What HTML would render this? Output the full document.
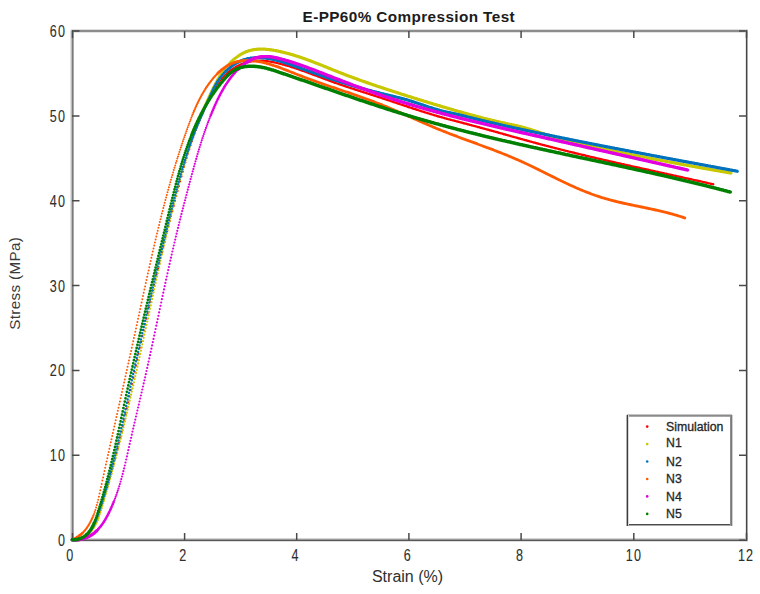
<!DOCTYPE html>
<html><head><meta charset="utf-8"><title>E-PP60% Compression Test</title>
<style>
html,body{margin:0;padding:0;background:#fff;width:760px;height:594px;overflow:hidden}
svg{display:block}
text{font-family:"Liberation Sans",sans-serif;fill:#2e2e2e}
.tk{font-size:14.3px;letter-spacing:1.3px;fill:#3a3a3a;stroke:#3a3a3a;stroke-width:0.1px}
.lb{font-size:16px}
.tt{font-size:15.3px;font-weight:bold;fill:#1c1c1c;letter-spacing:0.4px}
.lg{font-size:12.3px;fill:#1a1a1a;stroke:#1a1a1a;stroke-width:0.3px}
.cv path{fill:none;stroke-linecap:round}
</style></head><body>
<svg width="760" height="594" viewBox="0 0 760 594">
<rect width="760" height="594" fill="#fff"/>
<!-- axes box -->
<g shape-rendering="crispEdges">
<rect x="71" y="29" width="677" height="1" fill="#dedede"/>
<rect x="71" y="30" width="677" height="2" fill="#8c8c8c"/>
<rect x="71" y="32" width="677" height="1" fill="#e4e4e4"/>
<rect x="71" y="538" width="677" height="1" fill="#d4d4d4"/>
<rect x="71" y="539" width="677" height="1" fill="#9a9a9a"/>
<rect x="71" y="540" width="677" height="1" fill="#575757"/>
<rect x="71" y="541" width="677" height="1" fill="#e0e0e0"/>
<rect x="70" y="30" width="1" height="511" fill="#e2e2e2"/>
<rect x="71" y="30" width="1" height="511" fill="#bcbcbc"/>
<rect x="72" y="30" width="1" height="511" fill="#7a7a7a"/>
<rect x="73" y="30" width="1" height="511" fill="#a8a8a8"/>
<rect x="745" y="30" width="1" height="511" fill="#e6e6e6"/>
<rect x="746" y="30" width="1" height="511" fill="#464646"/>
<rect x="747" y="30" width="1" height="511" fill="#aaaaaa"/>
</g>
<g stroke="#4a4a4a" stroke-width="1.5">
<path d="M72.5 533V540M184.6 533V540M296.7 533V540M408.9 533V540M521.1 533V540M633.8 533V540M746.5 533V540"/>
<path d="M72.5 31V38M184.6 31V38M296.7 31V38M408.9 31V38M521.1 31V38M633.8 31V38M746.5 31V38"/>
<path d="M72 540.2H79.5M72 455.3H79.5M72 370.6H79.5M72 285.6H79.5M72 200.7H79.5M72 115.9H79.5M72 31H79.5"/>
<path d="M746.5 540.2H739M746.5 455.3H739M746.5 370.6H739M746.5 285.6H739M746.5 200.7H739M746.5 115.9H739M746.5 31H739"/>
</g>
<!-- tick labels -->
<g class="tk" text-anchor="middle">
<text transform="translate(70.3,560.6) scale(0.88,1.1)">0</text>
<text transform="translate(183.4,560.6) scale(0.88,1.1)">2</text>
<text transform="translate(295.6,560.6) scale(0.88,1.1)">4</text>
<text transform="translate(407.8,560.6) scale(0.88,1.1)">6</text>
<text transform="translate(520.0,560.6) scale(0.88,1.1)">8</text>
<text transform="translate(633.9,560.6) scale(0.88,1.1)">10</text>
<text transform="translate(746.1,560.6) scale(0.88,1.1)">12</text>
</g>
<g class="tk" text-anchor="end">
<text transform="translate(66.1,546.0) scale(0.88,1.1)">0</text>
<text transform="translate(66.1,461.1) scale(0.88,1.1)">10</text>
<text transform="translate(66.1,376.4) scale(0.88,1.1)">20</text>
<text transform="translate(66.1,291.8) scale(0.88,1.1)">30</text>
<text transform="translate(66.1,206.7) scale(0.88,1.1)">40</text>
<text transform="translate(66.1,121.7) scale(0.88,1.1)">50</text>
<text transform="translate(66.1,36.8) scale(0.88,1.1)">60</text>
</g>
<text class="lb" x="407.5" y="581.5" text-anchor="middle">Strain (%)</text>
<text class="lb" transform="translate(20.2,283.3) rotate(-90)" text-anchor="middle" style="font-size:15.2px;letter-spacing:0.35px;fill:#3a3a3a">Stress (MPa)</text>
<text class="tt" x="408.8" y="21.8" text-anchor="middle">E-PP60% Compression Test</text>
<!-- curves -->
<defs><filter id="sb" x="-2%" y="-2%" width="104%" height="104%"><feGaussianBlur stdDeviation="0.7"/></filter></defs>
<g class="cv" filter="url(#sb)">
<g stroke="#ff0000"><path d="M97.0 518.5h0M98.3 515.0h0M99.6 511.3h0M100.9 507.5h0M102.2 503.6h0M103.5 499.6h0M104.8 495.5h0M106.1 491.3h0M107.4 487.0h0M108.7 482.6h0M110.0 478.0h0M111.3 473.4h0M112.6 468.6h0M113.9 463.7h0M115.2 458.7h0M116.5 453.6h0M117.8 448.3h0M119.1 442.9h0M120.4 437.4h0M121.7 431.8h0M123.0 426.1h0M124.3 420.2h0M125.6 414.3h0M126.9 408.3h0M128.2 402.3h0M129.5 396.2h0M130.8 390.1h0M132.1 384.0h0M133.4 377.9h0M134.7 371.8h0M136.0 365.7h0M137.3 359.7h0M138.6 353.7h0M139.9 347.8h0M141.2 341.9h0M142.5 336.0h0M143.8 330.2h0M145.1 324.4h0M146.4 318.7h0M147.7 313.0h0M149.0 307.3h0M150.3 301.6h0M151.6 296.0h0M152.9 290.4h0M154.2 284.9h0M155.5 279.4h0M156.8 273.9h0M158.1 268.5h0M159.4 263.1h0M160.7 257.7h0M162.0 252.4h0M163.3 247.1h0M164.6 241.9h0M165.9 236.6h0M167.2 231.4h0M168.5 226.3h0M169.8 221.1h0M171.1 216.0h0M172.4 211.0h0M173.7 205.9h0M175.0 200.9h0M176.3 196.0h0M177.6 191.0h0M178.9 186.1h0M180.2 181.2h0M181.5 176.4h0M182.8 171.7h0M184.1 167.0h0M185.4 162.4h0M186.7 158.0h0M188.0 153.6h0M189.3 149.4h0M190.6 145.3h0M191.9 141.3h0M193.2 137.5h0M194.5 133.8h0M195.8 130.2h0M197.1 126.7h0M198.4 123.3h0" stroke-width="2.1"/><path d="M87.9 534.1h0M89.2 532.7h0M90.5 531.0h0M91.8 529.1h0M93.1 527.0h0M94.4 524.5h0M95.7 521.6h0M199.7 120.1h0M201.0 117.0h0M202.3 113.9h0M203.6 111.0h0M204.9 108.1h0M206.2 105.3h0M207.5 102.7h0M208.8 100.1h0M210.1 97.5h0M211.4 95.1h0M212.7 92.7h0M214.0 90.4h0M215.3 88.2h0M216.6 86.1h0M217.9 84.2h0M219.2 82.3h0M220.5 80.5h0M221.8 78.9h0M223.1 77.4h0M224.4 75.9h0" stroke-width="2.3"/><path d="M72.3 539.7h0M73.6 539.8h0M74.9 539.9h0M76.2 539.8h0M77.5 539.7h0M78.8 539.4h0M80.1 539.1h0M81.4 538.6h0M82.7 538.0h0M84.0 537.3h0M85.3 536.4h0M86.6 535.4h0M225.7 74.6h0M227.0 73.4h0M228.3 72.2h0M229.6 71.1h0M230.9 70.2h0M232.2 69.2h0M233.5 68.4h0M234.8 67.6h0M236.1 66.8h0M237.4 66.1h0M238.7 65.5h0M240.0 64.9h0M241.3 64.3h0M242.6 63.8h0M243.9 63.3h0M245.2 62.9h0M246.5 62.5h0M247.8 62.2h0M249.1 61.9h0M250.4 61.6h0M251.7 61.3h0M253.0 61.1h0M254.3 61.0h0M255.6 60.9h0M256.9 60.8h0M258.2 60.7h0M259.5 60.7h0M260.8 60.7h0M262.1 60.7h0M263.4 60.8h0M264.7 60.9h0M266.0 61.0h0M267.3 61.2h0M268.6 61.4h0M269.9 61.6h0M271.2 61.8h0M272.5 62.0h0M273.8 62.3h0M275.1 62.6h0M276.4 62.8h0M277.7 63.1h0M279.0 63.5h0M280.3 63.8h0M281.6 64.1h0M282.9 64.5h0M284.2 64.8h0M285.5 65.2h0M286.8 65.6h0M288.1 65.9h0M289.4 66.3h0M290.7 66.7h0M292.0 67.2h0M293.3 67.6h0M294.6 68.0h0M295.9 68.4h0M297.2 68.9h0M298.5 69.3h0M299.8 69.7h0M301.1 70.2h0M302.4 70.7h0M303.7 71.1h0M305.0 71.6h0M306.3 72.1h0M307.6 72.5h0M308.9 73.0h0M310.2 73.5h0M311.5 74.0h0M312.8 74.5h0M314.1 75.0h0M315.4 75.4h0M316.7 75.9h0M318.0 76.4h0M319.3 76.9h0M320.6 77.4h0M321.9 77.9h0M323.2 78.4h0M324.5 78.9h0M325.8 79.4h0M327.1 79.8h0M328.4 80.3h0M329.7 80.8h0M331.0 81.3h0M332.3 81.7h0M333.6 82.2h0M334.9 82.7h0M336.2 83.1h0M337.5 83.6h0M338.8 84.0h0M340.1 84.5h0M341.4 84.9h0M342.7 85.4h0M344.0 85.8h0M345.3 86.3h0M346.6 86.7h0M347.9 87.1h0M349.2 87.6h0M350.5 88.0h0M351.8 88.4h0M353.1 88.8h0M354.4 89.3h0M355.7 89.7h0M357.0 90.1h0M358.3 90.5h0M359.6 90.9h0M360.9 91.4h0M362.2 91.8h0M363.5 92.2h0M364.8 92.6h0M366.1 93.0h0M367.4 93.4h0M368.7 93.9h0M370.0 94.3h0M371.3 94.7h0M372.6 95.1h0M373.9 95.5h0M375.2 95.9h0M376.5 96.4h0M377.8 96.8h0M379.1 97.2h0M380.4 97.6h0M381.7 98.1h0M383.0 98.5h0M384.3 98.9h0M385.6 99.4h0M386.9 99.8h0M388.2 100.2h0M389.5 100.6h0M390.8 101.1h0M392.1 101.5h0M393.4 102.0h0M394.7 102.4h0M396.0 102.8h0M397.3 103.3h0M398.6 103.7h0M399.9 104.1h0M401.2 104.6h0M402.5 105.0h0M403.8 105.4h0M405.1 105.9h0M406.4 106.3h0M407.7 106.7h0M409.0 107.2h0M410.3 107.6h0M411.6 108.0h0M412.9 108.5h0M414.2 108.9h0M415.5 109.3h0M416.8 109.7h0M418.1 110.1h0M419.4 110.6h0M420.7 111.0h0M422.0 111.4h0M423.3 111.8h0M424.6 112.2h0M425.9 112.6h0M427.2 113.0h0M428.5 113.4h0M429.8 113.8h0M431.1 114.2h0M432.4 114.6h0M433.7 115.0h0M435.0 115.4h0M436.3 115.8h0M437.6 116.2h0M438.9 116.5h0M440.2 116.9h0M441.5 117.3h0M442.8 117.6h0M444.1 118.0h0M445.4 118.4h0M446.7 118.7h0M448.0 119.1h0M449.3 119.4h0M450.6 119.8h0M451.9 120.1h0M453.2 120.4h0M454.5 120.8h0M455.8 121.1h0M457.1 121.5h0M458.4 121.8h0M459.7 122.1h0M461.0 122.5h0M462.3 122.8h0M463.6 123.2h0M464.9 123.5h0M466.2 123.8h0M467.5 124.2h0M468.8 124.5h0M470.1 124.9h0M471.4 125.2h0M472.7 125.6h0M474.0 125.9h0M475.3 126.3h0M476.6 126.6h0M477.9 127.0h0M479.2 127.3h0M480.5 127.7h0M481.8 128.0h0M483.1 128.4h0M484.4 128.7h0M485.7 129.1h0M487.0 129.5h0M488.3 129.8h0M489.6 130.2h0M490.9 130.5h0M492.2 130.9h0M493.5 131.3h0M494.8 131.6h0M496.1 132.0h0M497.4 132.3h0M498.7 132.7h0M500.0 133.1h0M501.3 133.4h0M502.6 133.8h0M503.9 134.2h0M505.2 134.5h0M506.5 134.9h0M507.8 135.3h0M509.1 135.6h0M510.4 136.0h0M511.7 136.4h0M513.0 136.7h0M514.3 137.1h0M515.6 137.4h0M516.9 137.8h0M518.2 138.2h0M519.5 138.5h0M520.8 138.9h0M522.1 139.3h0M523.4 139.6h0M524.7 140.0h0M526.0 140.3h0M527.3 140.7h0M528.6 141.0h0M529.9 141.4h0M531.2 141.8h0M532.5 142.1h0M533.8 142.5h0M535.1 142.8h0M536.4 143.2h0M537.7 143.5h0M539.0 143.9h0M540.3 144.2h0M541.6 144.6h0M542.9 144.9h0M544.2 145.3h0M545.5 145.6h0M546.8 145.9h0M548.1 146.3h0M549.4 146.6h0M550.7 147.0h0M552.0 147.3h0M553.3 147.6h0M554.6 148.0h0M555.9 148.3h0M557.2 148.6h0M558.5 149.0h0M559.8 149.3h0M561.1 149.6h0M562.4 149.9h0M563.7 150.3h0M565.0 150.6h0M566.3 150.9h0M567.6 151.2h0M568.9 151.6h0M570.2 151.9h0M571.5 152.2h0M572.8 152.5h0M574.1 152.8h0M575.4 153.2h0M576.7 153.5h0M578.0 153.8h0M579.3 154.1h0M580.6 154.4h0M581.9 154.7h0M583.2 155.0h0M584.5 155.3h0M585.8 155.7h0M587.1 156.0h0M588.4 156.3h0M589.7 156.6h0M591.0 156.9h0M592.3 157.2h0M593.6 157.5h0M594.9 157.8h0M596.2 158.1h0M597.5 158.4h0M598.8 158.7h0M600.1 159.0h0M601.4 159.3h0M602.7 159.6h0M604.0 159.9h0M605.3 160.2h0M606.6 160.5h0M607.9 160.8h0M609.2 161.1h0M610.5 161.4h0M611.8 161.7h0M613.1 162.0h0M614.4 162.3h0M615.7 162.6h0M617.0 162.9h0M618.3 163.2h0M619.6 163.5h0M620.9 163.8h0M622.2 164.1h0M623.5 164.3h0M624.8 164.6h0M626.1 164.9h0M627.4 165.2h0M628.7 165.5h0M630.0 165.8h0M631.3 166.1h0M632.6 166.4h0M633.9 166.7h0M635.2 167.0h0M636.5 167.2h0M637.8 167.5h0M639.1 167.8h0M640.4 168.1h0M641.7 168.4h0M643.0 168.7h0M644.3 169.0h0M645.6 169.3h0M646.9 169.5h0M648.2 169.8h0M649.5 170.1h0M650.8 170.4h0M652.1 170.7h0M653.4 171.0h0M654.7 171.3h0M656.0 171.6h0M657.3 171.8h0M658.6 172.1h0M659.9 172.4h0M661.2 172.7h0M662.5 173.0h0M663.8 173.3h0M665.1 173.6h0M666.4 173.8h0M667.7 174.1h0M669.0 174.4h0M670.3 174.7h0M671.6 175.0h0M672.9 175.3h0M674.2 175.6h0M675.5 175.8h0M676.8 176.1h0M678.1 176.4h0M679.4 176.7h0M680.7 177.0h0M682.0 177.3h0M683.3 177.6h0M684.6 177.9h0M685.9 178.1h0M687.2 178.4h0M688.5 178.7h0M689.8 179.0h0M691.1 179.3h0M692.4 179.6h0M693.7 179.9h0M695.0 180.2h0M696.3 180.5h0M697.6 180.7h0M698.9 181.0h0M700.2 181.3h0M701.5 181.6h0M702.8 181.9h0M704.1 182.2h0M705.4 182.5h0M706.7 182.8h0M708.0 183.1h0M709.3 183.4h0M710.6 183.7h0M711.9 184.0h0M713.2 184.3h0" stroke-width="2.4"/></g>
<g stroke="#c8c800"><path d="M98.9 516.4h0M99.6 514.5h0M100.3 512.5h0M101.0 510.3h0M101.7 508.1h0M102.4 505.8h0M103.1 503.4h0M103.8 501.0h0M104.5 498.6h0M105.2 496.2h0M105.9 493.8h0M106.6 491.3h0M107.3 488.9h0M108.0 486.4h0M108.7 483.9h0M109.4 481.4h0M110.1 478.8h0M110.8 476.3h0M111.5 473.7h0M112.2 471.1h0M112.9 468.5h0M113.6 465.9h0M114.3 463.3h0M115.0 460.6h0M115.7 457.9h0M116.4 455.2h0M117.1 452.5h0M117.8 449.8h0M118.5 447.0h0M119.2 444.3h0M119.9 441.5h0M120.6 438.7h0M121.3 435.9h0M122.0 433.0h0M122.7 430.2h0M123.4 427.3h0M124.1 424.4h0M124.8 421.5h0M125.5 418.6h0M126.2 415.7h0M126.9 412.7h0M127.6 409.7h0M128.3 406.8h0M129.0 403.8h0M129.7 400.7h0M130.4 397.7h0M131.1 394.7h0M131.8 391.6h0M132.5 388.5h0M133.2 385.4h0M133.9 382.3h0M134.6 379.2h0M135.3 376.1h0M136.0 373.0h0M136.7 369.8h0M137.4 366.7h0M138.1 363.5h0M138.8 360.3h0M139.5 357.1h0M140.2 353.9h0M140.9 350.7h0M141.6 347.5h0M142.3 344.3h0M143.0 341.1h0M143.7 337.8h0M144.4 334.6h0M145.1 331.4h0M145.8 328.1h0M146.5 324.9h0M147.2 321.6h0M147.9 318.4h0M148.6 315.2h0M149.3 311.9h0M150.0 308.7h0M150.7 305.4h0M151.4 302.2h0M152.1 299.0h0M152.8 295.7h0M153.5 292.5h0M154.2 289.3h0M154.9 286.1h0M155.6 282.9h0M156.3 279.7h0M157.0 276.5h0M157.7 273.3h0M158.4 270.2h0M159.1 267.0h0M159.8 263.9h0M160.5 260.7h0M161.2 257.6h0M161.9 254.5h0M162.6 251.4h0M163.3 248.3h0M164.0 245.3h0M164.7 242.2h0M165.4 239.2h0M166.1 236.2h0M166.8 233.2h0M167.5 230.2h0M168.2 227.2h0M168.9 224.3h0M169.6 221.4h0M170.3 218.4h0M171.0 215.5h0M171.7 212.7h0M172.4 209.8h0M173.1 207.0h0M173.8 204.2h0M174.5 201.4h0M175.2 198.6h0M175.9 195.8h0M176.6 193.1h0M177.3 190.4h0M178.0 187.7h0M178.7 185.1h0M179.4 182.5h0M180.1 179.9h0M180.8 177.3h0M181.5 174.8h0M182.2 172.3h0M182.9 169.8h0M183.6 167.3h0M184.3 164.9h0M185.0 162.5h0M185.7 160.1h0M186.4 157.8h0M187.1 155.4h0M187.8 153.1h0M188.5 150.9h0M189.2 148.6h0M189.9 146.4h0M190.6 144.3h0M191.3 142.1h0M192.0 140.0h0M192.7 137.9h0M193.4 135.8h0M194.1 133.8h0M194.8 131.8h0M195.5 129.8h0M196.2 127.9h0M196.9 125.9h0M197.6 124.0h0M198.3 122.2h0M199.0 120.3h0M199.7 118.5h0M200.4 116.7h0M201.1 114.9h0" stroke-width="2.3"/><path d="M88.4 534.2h0M89.1 533.4h0M89.8 532.6h0M90.5 531.8h0M91.2 530.9h0M91.9 530.0h0M92.6 529.0h0M93.3 527.9h0M94.0 526.8h0M94.7 525.6h0M95.4 524.3h0M96.1 522.9h0M96.8 521.4h0M97.5 519.9h0M98.2 518.2h0M201.8 113.2h0M202.5 111.5h0M203.2 109.8h0M203.9 108.1h0M204.6 106.4h0M205.3 104.8h0M206.0 103.2h0M206.7 101.6h0M207.4 100.0h0M208.1 98.5h0M208.8 97.0h0M209.5 95.5h0M210.2 94.0h0M210.9 92.5h0M211.6 91.0h0M212.3 89.6h0M213.0 88.2h0M213.7 86.8h0M214.4 85.4h0M215.1 84.1h0M215.8 82.8h0M216.5 81.5h0M217.2 80.2h0M217.9 79.0h0M218.6 77.8h0M219.3 76.6h0M220.0 75.5h0M220.7 74.4h0M221.4 73.4h0M222.1 72.3h0M222.8 71.3h0M223.5 70.4h0M224.2 69.5h0M224.9 68.6h0M225.6 67.7h0M226.3 66.9h0M227.0 66.1h0M227.7 65.3h0M228.4 64.5h0M229.1 63.8h0M229.8 63.1h0" stroke-width="2.7"/><path d="M72.3 539.7h0M73.0 539.8h0M73.7 539.9h0M74.4 540.0h0M75.1 540.0h0M75.8 540.1h0M76.5 540.0h0M77.2 540.0h0M77.9 539.9h0M78.6 539.8h0M79.3 539.6h0M80.0 539.5h0M80.7 539.2h0M81.4 539.0h0M82.1 538.7h0M82.8 538.4h0M83.5 538.0h0M84.2 537.6h0M84.9 537.1h0M85.6 536.6h0M86.3 536.1h0M87.0 535.5h0M87.7 534.9h0M230.5 62.4h0M231.2 61.7h0M231.9 61.1h0M232.6 60.4h0M233.3 59.8h0M234.0 59.2h0M234.7 58.6h0M235.4 58.1h0M236.1 57.6h0M236.8 57.0h0M237.5 56.5h0M238.2 56.1h0M238.9 55.6h0M239.6 55.2h0M240.3 54.7h0M241.0 54.3h0M241.7 53.9h0M242.4 53.5h0M243.1 53.2h0M243.8 52.8h0M244.5 52.5h0M245.2 52.2h0M245.9 51.9h0M246.6 51.6h0M247.3 51.4h0M248.0 51.1h0M248.7 50.9h0M249.4 50.7h0M250.1 50.5h0M250.8 50.3h0M251.5 50.1h0M252.2 50.0h0M252.9 49.9h0M253.6 49.7h0M254.3 49.6h0M255.0 49.5h0M255.7 49.4h0M256.4 49.4h0M257.1 49.3h0M257.8 49.2h0M258.5 49.2h0M259.2 49.2h0M259.9 49.1h0M260.6 49.1h0M261.3 49.1h0M262.0 49.1h0M262.7 49.1h0M263.4 49.2h0M264.1 49.2h0M264.8 49.2h0M265.5 49.3h0M266.2 49.3h0M266.9 49.4h0M267.6 49.5h0M268.3 49.5h0M269.0 49.6h0M269.7 49.7h0M270.4 49.8h0M271.1 49.9h0M271.8 50.0h0M272.5 50.1h0M273.2 50.2h0M273.9 50.3h0M274.6 50.5h0M275.3 50.6h0M276.0 50.7h0M276.7 50.9h0M277.4 51.0h0M278.1 51.1h0M278.8 51.3h0M279.5 51.5h0M280.2 51.6h0M280.9 51.8h0M281.6 51.9h0M282.3 52.1h0M283.0 52.3h0M283.7 52.4h0M284.4 52.6h0M285.1 52.8h0M285.8 53.0h0M286.5 53.1h0M287.2 53.3h0M287.9 53.5h0M288.6 53.7h0M289.3 53.9h0M290.0 54.1h0M290.7 54.3h0M291.4 54.5h0M292.1 54.7h0M292.8 54.9h0M293.5 55.1h0M294.2 55.4h0M294.9 55.6h0M295.6 55.8h0M296.3 56.0h0M297.0 56.2h0M297.7 56.5h0M298.4 56.7h0M299.1 56.9h0M299.8 57.1h0M300.5 57.4h0M301.2 57.6h0M301.9 57.9h0M302.6 58.1h0M303.3 58.3h0M304.0 58.6h0M304.7 58.8h0M305.4 59.1h0M306.1 59.3h0M306.8 59.6h0M307.5 59.9h0M308.2 60.1h0M308.9 60.4h0M309.6 60.6h0M310.3 60.9h0M311.0 61.2h0M311.7 61.4h0M312.4 61.7h0M313.1 62.0h0M313.8 62.2h0M314.5 62.5h0M315.2 62.8h0M315.9 63.0h0M316.6 63.3h0M317.3 63.6h0M318.0 63.9h0M318.7 64.1h0M319.4 64.4h0M320.1 64.7h0M320.8 65.0h0M321.5 65.2h0M322.2 65.5h0M322.9 65.8h0M323.6 66.1h0M324.3 66.4h0M325.0 66.7h0M325.7 66.9h0M326.4 67.2h0M327.1 67.5h0M327.8 67.8h0M328.5 68.1h0M329.2 68.4h0M329.9 68.6h0M330.6 68.9h0M331.3 69.2h0M332.0 69.5h0M332.7 69.8h0M333.4 70.0h0M334.1 70.3h0M334.8 70.6h0M335.5 70.9h0M336.2 71.2h0M336.9 71.5h0M337.6 71.7h0M338.3 72.0h0M339.0 72.3h0M339.7 72.6h0M340.4 72.8h0M341.1 73.1h0M341.8 73.4h0M342.5 73.7h0M343.2 73.9h0M343.9 74.2h0M344.6 74.5h0M345.3 74.8h0M346.0 75.0h0M346.7 75.3h0M347.4 75.6h0M348.1 75.8h0M348.8 76.1h0M349.5 76.4h0M350.2 76.6h0M350.9 76.9h0M351.6 77.1h0M352.3 77.4h0M353.0 77.7h0M353.7 77.9h0M354.4 78.2h0M355.1 78.4h0M355.8 78.7h0M356.5 78.9h0M357.2 79.2h0M357.9 79.4h0M358.6 79.7h0M359.3 80.0h0M360.0 80.2h0M360.7 80.5h0M361.4 80.7h0M362.1 81.0h0M362.8 81.2h0M363.5 81.5h0M364.2 81.7h0M364.9 81.9h0M365.6 82.2h0M366.3 82.4h0M367.0 82.7h0M367.7 82.9h0M368.4 83.2h0M369.1 83.4h0M369.8 83.7h0M370.5 83.9h0M371.2 84.1h0M371.9 84.4h0M372.6 84.6h0M373.3 84.9h0M374.0 85.1h0M374.7 85.3h0M375.4 85.6h0M376.1 85.8h0M376.8 86.0h0M377.5 86.3h0M378.2 86.5h0M378.9 86.7h0M379.6 87.0h0M380.3 87.2h0M381.0 87.4h0M381.7 87.7h0M382.4 87.9h0M383.1 88.1h0M383.8 88.4h0M384.5 88.6h0M385.2 88.8h0M385.9 89.1h0M386.6 89.3h0M387.3 89.5h0M388.0 89.8h0M388.7 90.0h0M389.4 90.2h0M390.1 90.4h0M390.8 90.7h0M391.5 90.9h0M392.2 91.1h0M392.9 91.3h0M393.6 91.6h0M394.3 91.8h0M395.0 92.0h0M395.7 92.2h0M396.4 92.5h0M397.1 92.7h0M397.8 92.9h0M398.5 93.1h0M399.2 93.4h0M399.9 93.6h0M400.6 93.8h0M401.3 94.0h0M402.0 94.3h0M402.7 94.5h0M403.4 94.7h0M404.1 94.9h0M404.8 95.2h0M405.5 95.4h0M406.2 95.6h0M406.9 95.8h0M407.6 96.0h0M408.3 96.3h0M409.0 96.5h0M409.7 96.7h0M410.4 96.9h0M411.1 97.1h0M411.8 97.4h0M412.5 97.6h0M413.2 97.8h0M413.9 98.0h0M414.6 98.2h0M415.3 98.5h0M416.0 98.7h0M416.7 98.9h0M417.4 99.1h0M418.1 99.3h0M418.8 99.6h0M419.5 99.8h0M420.2 100.0h0M420.9 100.2h0M421.6 100.4h0M422.3 100.6h0M423.0 100.9h0M423.7 101.1h0M424.4 101.3h0M425.1 101.5h0M425.8 101.7h0M426.5 101.9h0M427.2 102.1h0M427.9 102.4h0M428.6 102.6h0M429.3 102.8h0M430.0 103.0h0M430.7 103.2h0M431.4 103.4h0M432.1 103.6h0M432.8 103.8h0M433.5 104.1h0M434.2 104.3h0M434.9 104.5h0M435.6 104.7h0M436.3 104.9h0M437.0 105.1h0M437.7 105.3h0M438.4 105.5h0M439.1 105.7h0M439.8 105.9h0M440.5 106.2h0M441.2 106.4h0M441.9 106.6h0M442.6 106.8h0M443.3 107.0h0M444.0 107.2h0M444.7 107.4h0M445.4 107.6h0M446.1 107.8h0M446.8 108.0h0M447.5 108.2h0M448.2 108.4h0M448.9 108.6h0M449.6 108.8h0M450.3 109.0h0M451.0 109.2h0M451.7 109.4h0M452.4 109.6h0M453.1 109.8h0M453.8 110.1h0M454.5 110.3h0M455.2 110.5h0M455.9 110.7h0M456.6 110.9h0M457.3 111.1h0M458.0 111.3h0M458.7 111.5h0M459.4 111.7h0M460.1 111.9h0M460.8 112.1h0M461.5 112.2h0M462.2 112.4h0M462.9 112.6h0M463.6 112.8h0M464.3 113.0h0M465.0 113.2h0M465.7 113.4h0M466.4 113.6h0M467.1 113.8h0M467.8 114.0h0M468.5 114.2h0M469.2 114.4h0M469.9 114.6h0M470.6 114.8h0M471.3 115.0h0M472.0 115.2h0M472.7 115.4h0M473.4 115.5h0M474.1 115.7h0M474.8 115.9h0M475.5 116.1h0M476.2 116.3h0M476.9 116.5h0M477.6 116.7h0M478.3 116.9h0M479.0 117.0h0M479.7 117.2h0M480.4 117.4h0M481.1 117.6h0M481.8 117.8h0M482.5 117.9h0M483.2 118.1h0M483.9 118.3h0M484.6 118.5h0M485.3 118.7h0M486.0 118.8h0M486.7 119.0h0M487.4 119.2h0M488.1 119.4h0M488.8 119.5h0M489.5 119.7h0M490.2 119.9h0M490.9 120.0h0M491.6 120.2h0M492.3 120.4h0M493.0 120.5h0M493.7 120.7h0M494.4 120.9h0M495.1 121.0h0M495.8 121.2h0M496.5 121.4h0M497.2 121.5h0M497.9 121.7h0M498.6 121.9h0M499.3 122.0h0M500.0 122.2h0M500.7 122.3h0M501.4 122.5h0M502.1 122.6h0M502.8 122.8h0M503.5 122.9h0M504.2 123.1h0M504.9 123.2h0M505.6 123.4h0M506.3 123.5h0M507.0 123.7h0M507.7 123.8h0M508.4 124.0h0M509.1 124.1h0M509.8 124.3h0M510.5 124.5h0M511.2 124.6h0M511.9 124.8h0M512.6 124.9h0M513.3 125.1h0M514.0 125.2h0M514.7 125.4h0M515.4 125.5h0M516.1 125.7h0M516.8 125.9h0M517.5 126.0h0M518.2 126.2h0M518.9 126.4h0M519.6 126.5h0M520.3 126.7h0M521.0 126.9h0M521.7 127.1h0M522.4 127.2h0M523.1 127.4h0M523.8 127.6h0M524.5 127.8h0M525.2 128.0h0M525.9 128.2h0M526.6 128.4h0M527.3 128.6h0M528.0 128.8h0M528.7 129.0h0M529.4 129.2h0M530.1 129.4h0M530.8 129.6h0M531.5 129.8h0M532.2 130.0h0M532.9 130.3h0M533.6 130.5h0M534.3 130.7h0M535.0 131.0h0M535.7 131.2h0M536.4 131.4h0M537.1 131.6h0M537.8 131.9h0M538.5 132.1h0M539.2 132.3h0M539.9 132.6h0M540.6 132.8h0M541.3 133.0h0M542.0 133.2h0M542.7 133.5h0M543.4 133.7h0M544.1 133.9h0M544.8 134.1h0M545.5 134.3h0M546.2 134.5h0M546.9 134.8h0M547.6 135.0h0M548.3 135.2h0M549.0 135.4h0M549.7 135.6h0M550.4 135.8h0M551.1 136.0h0M551.8 136.2h0M552.5 136.4h0M553.2 136.6h0M553.9 136.9h0M554.6 137.1h0M555.3 137.3h0M556.0 137.5h0M556.7 137.7h0M557.4 137.9h0M558.1 138.1h0M558.8 138.3h0M559.5 138.5h0M560.2 138.6h0M560.9 138.8h0M561.6 139.0h0M562.3 139.2h0M563.0 139.4h0M563.7 139.6h0M564.4 139.8h0M565.1 140.0h0M565.8 140.2h0M566.5 140.4h0M567.2 140.5h0M567.9 140.7h0M568.6 140.9h0M569.3 141.1h0M570.0 141.3h0M570.7 141.5h0M571.4 141.6h0M572.1 141.8h0M572.8 142.0h0M573.5 142.2h0M574.2 142.4h0M574.9 142.5h0M575.6 142.7h0M576.3 142.9h0M577.0 143.1h0M577.7 143.2h0M578.4 143.4h0M579.1 143.6h0M579.8 143.7h0M580.5 143.9h0M581.2 144.1h0M581.9 144.2h0M582.6 144.4h0M583.3 144.6h0M584.0 144.7h0M584.7 144.9h0M585.4 145.1h0M586.1 145.2h0M586.8 145.4h0M587.5 145.6h0M588.2 145.7h0M588.9 145.9h0M589.6 146.1h0M590.3 146.2h0M591.0 146.4h0M591.7 146.5h0M592.4 146.7h0M593.1 146.8h0M593.8 147.0h0M594.5 147.2h0M595.2 147.3h0M595.9 147.5h0M596.6 147.6h0M597.3 147.8h0M598.0 147.9h0M598.7 148.1h0M599.4 148.2h0M600.1 148.4h0M600.8 148.5h0M601.5 148.7h0M602.2 148.8h0M602.9 149.0h0M603.6 149.1h0M604.3 149.3h0M605.0 149.4h0M605.7 149.6h0M606.4 149.7h0M607.1 149.9h0M607.8 150.0h0M608.5 150.2h0M609.2 150.3h0M609.9 150.5h0M610.6 150.6h0M611.3 150.8h0M612.0 150.9h0M612.7 151.0h0M613.4 151.2h0M614.1 151.3h0M614.8 151.5h0M615.5 151.6h0M616.2 151.8h0M616.9 151.9h0M617.6 152.0h0M618.3 152.2h0M619.0 152.3h0M619.7 152.5h0M620.4 152.6h0M621.1 152.7h0M621.8 152.9h0M622.5 153.0h0M623.2 153.2h0M623.9 153.3h0M624.6 153.4h0M625.3 153.6h0M626.0 153.7h0M626.7 153.9h0M627.4 154.0h0M628.1 154.1h0M628.8 154.3h0M629.5 154.4h0M630.2 154.5h0M630.9 154.7h0M631.6 154.8h0M632.3 155.0h0M633.0 155.1h0M633.7 155.2h0M634.4 155.4h0M635.1 155.5h0M635.8 155.6h0M636.5 155.8h0M637.2 155.9h0M637.9 156.0h0M638.6 156.2h0M639.3 156.3h0M640.0 156.4h0M640.7 156.6h0M641.4 156.7h0M642.1 156.8h0M642.8 157.0h0M643.5 157.1h0M644.2 157.2h0M644.9 157.4h0M645.6 157.5h0M646.3 157.7h0M647.0 157.8h0M647.7 157.9h0M648.4 158.1h0M649.1 158.2h0M649.8 158.3h0M650.5 158.5h0M651.2 158.6h0M651.9 158.7h0M652.6 158.9h0M653.3 159.0h0M654.0 159.1h0M654.7 159.3h0M655.4 159.4h0M656.1 159.5h0M656.8 159.7h0M657.5 159.8h0M658.2 159.9h0M658.9 160.1h0M659.6 160.2h0M660.3 160.3h0M661.0 160.4h0M661.7 160.6h0M662.4 160.7h0M663.1 160.8h0M663.8 161.0h0M664.5 161.1h0M665.2 161.2h0M665.9 161.4h0M666.6 161.5h0M667.3 161.6h0M668.0 161.8h0M668.7 161.9h0M669.4 162.0h0M670.1 162.2h0M670.8 162.3h0M671.5 162.4h0M672.2 162.6h0M672.9 162.7h0M673.6 162.8h0M674.3 162.9h0M675.0 163.1h0M675.7 163.2h0M676.4 163.3h0M677.1 163.5h0M677.8 163.6h0M678.5 163.7h0M679.2 163.9h0M679.9 164.0h0M680.6 164.1h0M681.3 164.2h0M682.0 164.4h0M682.7 164.5h0M683.4 164.6h0M684.1 164.8h0M684.8 164.9h0M685.5 165.0h0M686.2 165.1h0M686.9 165.3h0M687.6 165.4h0M688.3 165.5h0M689.0 165.7h0M689.7 165.8h0M690.4 165.9h0M691.1 166.0h0M691.8 166.2h0M692.5 166.3h0M693.2 166.4h0M693.9 166.5h0M694.6 166.7h0M695.3 166.8h0M696.0 166.9h0M696.7 167.1h0M697.4 167.2h0M698.1 167.3h0M698.8 167.4h0M699.5 167.6h0M700.2 167.7h0M700.9 167.8h0M701.6 167.9h0M702.3 168.1h0M703.0 168.2h0M703.7 168.3h0M704.4 168.4h0M705.1 168.6h0M705.8 168.7h0M706.5 168.8h0M707.2 168.9h0M707.9 169.1h0M708.6 169.2h0M709.3 169.3h0M710.0 169.4h0M710.7 169.6h0M711.4 169.7h0M712.1 169.8h0M712.8 169.9h0M713.5 170.1h0M714.2 170.2h0M714.9 170.3h0M715.6 170.4h0M716.3 170.5h0M717.0 170.7h0M717.7 170.8h0M718.4 170.9h0M719.1 171.0h0M719.8 171.2h0M720.5 171.3h0M721.2 171.4h0M721.9 171.5h0M722.6 171.7h0M723.3 171.8h0M724.0 171.9h0M724.7 172.0h0M725.4 172.1h0M726.1 172.3h0M726.8 172.4h0M727.5 172.5h0M728.2 172.6h0M728.9 172.7h0M729.6 172.9h0M730.3 173.0h0M731.0 173.1h0" stroke-width="3.2"/></g>
<g stroke="#0072bd"><path d="M96.1 519.8h0M96.8 517.9h0M97.5 516.0h0M98.2 514.0h0M98.9 511.9h0M99.6 509.8h0M100.3 507.7h0M101.0 505.6h0M101.7 503.4h0M102.4 501.2h0M103.1 498.9h0M103.8 496.6h0M104.5 494.3h0M105.2 492.0h0M105.9 489.6h0M106.6 487.2h0M107.3 484.7h0M108.0 482.2h0M108.7 479.7h0M109.4 477.2h0M110.1 474.6h0M110.8 471.9h0M111.5 469.3h0M112.2 466.6h0M112.9 463.8h0M113.6 461.0h0M114.3 458.2h0M115.0 455.4h0M115.7 452.5h0M116.4 449.6h0M117.1 446.6h0M117.8 443.7h0M118.5 440.6h0M119.2 437.6h0M119.9 434.5h0M120.6 431.4h0M121.3 428.3h0M122.0 425.2h0M122.7 422.0h0M123.4 418.8h0M124.1 415.6h0M124.8 412.4h0M125.5 409.2h0M126.2 406.0h0M126.9 402.8h0M127.6 399.6h0M128.3 396.3h0M129.0 393.1h0M129.7 389.9h0M130.4 386.7h0M131.1 383.5h0M131.8 380.3h0M132.5 377.1h0M133.2 374.0h0M133.9 370.8h0M134.6 367.6h0M135.3 364.5h0M136.0 361.3h0M136.7 358.1h0M137.4 355.0h0M138.1 351.9h0M138.8 348.7h0M139.5 345.6h0M140.2 342.5h0M140.9 339.4h0M141.6 336.3h0M142.3 333.2h0M143.0 330.1h0M143.7 327.0h0M144.4 323.9h0M145.1 320.8h0M145.8 317.7h0M146.5 314.7h0M147.2 311.6h0M147.9 308.6h0M148.6 305.5h0M149.3 302.5h0M150.0 299.4h0M150.7 296.4h0M151.4 293.4h0M152.1 290.4h0M152.8 287.4h0M153.5 284.4h0M154.2 281.4h0M154.9 278.4h0M155.6 275.4h0M156.3 272.4h0M157.0 269.5h0M157.7 266.5h0M158.4 263.6h0M159.1 260.6h0M159.8 257.7h0M160.5 254.8h0M161.2 251.8h0M161.9 248.9h0M162.6 246.0h0M163.3 243.1h0M164.0 240.2h0M164.7 237.3h0M165.4 234.4h0M166.1 231.6h0M166.8 228.7h0M167.5 225.8h0M168.2 223.0h0M168.9 220.1h0M169.6 217.3h0M170.3 214.4h0M171.0 211.6h0M171.7 208.8h0M172.4 206.0h0M173.1 203.2h0M173.8 200.4h0M174.5 197.7h0M175.2 195.0h0M175.9 192.3h0M176.6 189.6h0M177.3 187.0h0M178.0 184.3h0M178.7 181.8h0M179.4 179.2h0M180.1 176.7h0M180.8 174.2h0M181.5 171.7h0M182.2 169.3h0M182.9 167.0h0M183.6 164.6h0M184.3 162.3h0M185.0 160.0h0M185.7 157.8h0M186.4 155.6h0M187.1 153.4h0M187.8 151.3h0M188.5 149.2h0M189.2 147.1h0M189.9 145.1h0M190.6 143.1h0M191.3 141.1h0M192.0 139.2h0M192.7 137.3h0M193.4 135.4h0M194.1 133.6h0M194.8 131.8h0M195.5 130.0h0" stroke-width="2.5"/><path d="M87.7 534.1h0M88.4 533.3h0M89.1 532.5h0M89.8 531.6h0M90.5 530.6h0M91.2 529.6h0M91.9 528.5h0M92.6 527.3h0M93.3 526.0h0M94.0 524.6h0M94.7 523.1h0M95.4 521.5h0M196.2 128.2h0M196.9 126.5h0M197.6 124.8h0M198.3 123.1h0M199.0 121.4h0M199.7 119.8h0M200.4 118.1h0M201.1 116.5h0M201.8 114.9h0M202.5 113.3h0M203.2 111.7h0M203.9 110.1h0M204.6 108.5h0M205.3 107.0h0M206.0 105.4h0M206.7 103.8h0M207.4 102.3h0M208.1 100.7h0M208.8 99.2h0M209.5 97.6h0M210.2 96.1h0M210.9 94.5h0M211.6 93.0h0M212.3 91.4h0M213.0 89.9h0M213.7 88.5h0M214.4 87.1h0M215.1 85.8h0M215.8 84.5h0M216.5 83.3h0M217.2 82.2h0M217.9 81.1h0M218.6 80.0h0M219.3 79.0h0M220.0 78.1h0M220.7 77.2h0M221.4 76.3h0M222.1 75.4h0M222.8 74.6h0M223.5 73.8h0M224.2 73.0h0M224.9 72.3h0M225.6 71.5h0" stroke-width="2.8"/><path d="M72.3 539.7h0M73.0 539.8h0M73.7 539.8h0M74.4 539.8h0M75.1 539.8h0M75.8 539.8h0M76.5 539.8h0M77.2 539.7h0M77.9 539.6h0M78.6 539.4h0M79.3 539.2h0M80.0 539.0h0M80.7 538.8h0M81.4 538.5h0M82.1 538.2h0M82.8 537.8h0M83.5 537.4h0M84.2 537.0h0M84.9 536.5h0M85.6 536.0h0M86.3 535.4h0M87.0 534.7h0M226.3 70.8h0M227.0 70.2h0M227.7 69.5h0M228.4 68.9h0M229.1 68.3h0M229.8 67.7h0M230.5 67.1h0M231.2 66.6h0M231.9 66.1h0M232.6 65.6h0M233.3 65.1h0M234.0 64.6h0M234.7 64.2h0M235.4 63.8h0M236.1 63.3h0M236.8 63.0h0M237.5 62.6h0M238.2 62.2h0M238.9 61.9h0M239.6 61.5h0M240.3 61.2h0M241.0 60.9h0M241.7 60.7h0M242.4 60.4h0M243.1 60.1h0M243.8 59.9h0M244.5 59.7h0M245.2 59.5h0M245.9 59.3h0M246.6 59.1h0M247.3 58.9h0M248.0 58.7h0M248.7 58.6h0M249.4 58.5h0M250.1 58.3h0M250.8 58.2h0M251.5 58.1h0M252.2 58.0h0M252.9 58.0h0M253.6 57.9h0M254.3 57.8h0M255.0 57.8h0M255.7 57.7h0M256.4 57.7h0M257.1 57.7h0M257.8 57.7h0M258.5 57.7h0M259.2 57.7h0M259.9 57.7h0M260.6 57.7h0M261.3 57.8h0M262.0 57.8h0M262.7 57.9h0M263.4 57.9h0M264.1 58.0h0M264.8 58.0h0M265.5 58.1h0M266.2 58.2h0M266.9 58.3h0M267.6 58.4h0M268.3 58.5h0M269.0 58.6h0M269.7 58.7h0M270.4 58.9h0M271.1 59.0h0M271.8 59.1h0M272.5 59.3h0M273.2 59.4h0M273.9 59.6h0M274.6 59.8h0M275.3 59.9h0M276.0 60.1h0M276.7 60.3h0M277.4 60.5h0M278.1 60.7h0M278.8 60.8h0M279.5 61.0h0M280.2 61.2h0M280.9 61.4h0M281.6 61.7h0M282.3 61.9h0M283.0 62.1h0M283.7 62.3h0M284.4 62.5h0M285.1 62.8h0M285.8 63.0h0M286.5 63.2h0M287.2 63.4h0M287.9 63.7h0M288.6 63.9h0M289.3 64.2h0M290.0 64.4h0M290.7 64.7h0M291.4 64.9h0M292.1 65.2h0M292.8 65.4h0M293.5 65.7h0M294.2 65.9h0M294.9 66.2h0M295.6 66.4h0M296.3 66.7h0M297.0 66.9h0M297.7 67.2h0M298.4 67.4h0M299.1 67.7h0M299.8 67.9h0M300.5 68.2h0M301.2 68.5h0M301.9 68.7h0M302.6 69.0h0M303.3 69.2h0M304.0 69.5h0M304.7 69.7h0M305.4 70.0h0M306.1 70.2h0M306.8 70.5h0M307.5 70.7h0M308.2 71.0h0M308.9 71.2h0M309.6 71.5h0M310.3 71.7h0M311.0 72.0h0M311.7 72.2h0M312.4 72.5h0M313.1 72.7h0M313.8 73.0h0M314.5 73.2h0M315.2 73.5h0M315.9 73.7h0M316.6 74.0h0M317.3 74.2h0M318.0 74.4h0M318.7 74.7h0M319.4 74.9h0M320.1 75.2h0M320.8 75.4h0M321.5 75.7h0M322.2 75.9h0M322.9 76.1h0M323.6 76.4h0M324.3 76.6h0M325.0 76.8h0M325.7 77.1h0M326.4 77.3h0M327.1 77.6h0M327.8 77.8h0M328.5 78.0h0M329.2 78.3h0M329.9 78.5h0M330.6 78.7h0M331.3 79.0h0M332.0 79.2h0M332.7 79.4h0M333.4 79.7h0M334.1 79.9h0M334.8 80.1h0M335.5 80.3h0M336.2 80.6h0M336.9 80.8h0M337.6 81.0h0M338.3 81.2h0M339.0 81.5h0M339.7 81.7h0M340.4 81.9h0M341.1 82.1h0M341.8 82.4h0M342.5 82.6h0M343.2 82.8h0M343.9 83.0h0M344.6 83.2h0M345.3 83.5h0M346.0 83.7h0M346.7 83.9h0M347.4 84.1h0M348.1 84.3h0M348.8 84.5h0M349.5 84.8h0M350.2 85.0h0M350.9 85.2h0M351.6 85.4h0M352.3 85.6h0M353.0 85.8h0M353.7 86.0h0M354.4 86.2h0M355.1 86.4h0M355.8 86.6h0M356.5 86.8h0M357.2 87.0h0M357.9 87.2h0M358.6 87.4h0M359.3 87.7h0M360.0 87.9h0M360.7 88.1h0M361.4 88.2h0M362.1 88.4h0M362.8 88.6h0M363.5 88.8h0M364.2 89.0h0M364.9 89.2h0M365.6 89.4h0M366.3 89.6h0M367.0 89.8h0M367.7 90.0h0M368.4 90.2h0M369.1 90.4h0M369.8 90.6h0M370.5 90.7h0M371.2 90.9h0M371.9 91.1h0M372.6 91.3h0M373.3 91.5h0M374.0 91.7h0M374.7 91.8h0M375.4 92.0h0M376.1 92.2h0M376.8 92.4h0M377.5 92.6h0M378.2 92.7h0M378.9 92.9h0M379.6 93.1h0M380.3 93.3h0M381.0 93.4h0M381.7 93.6h0M382.4 93.8h0M383.1 93.9h0M383.8 94.1h0M384.5 94.3h0M385.2 94.4h0M385.9 94.6h0M386.6 94.8h0M387.3 94.9h0M388.0 95.1h0M388.7 95.3h0M389.4 95.4h0M390.1 95.6h0M390.8 95.8h0M391.5 95.9h0M392.2 96.1h0M392.9 96.3h0M393.6 96.4h0M394.3 96.6h0M395.0 96.8h0M395.7 97.0h0M396.4 97.1h0M397.1 97.3h0M397.8 97.5h0M398.5 97.7h0M399.2 97.8h0M399.9 98.0h0M400.6 98.2h0M401.3 98.4h0M402.0 98.6h0M402.7 98.8h0M403.4 98.9h0M404.1 99.1h0M404.8 99.3h0M405.5 99.5h0M406.2 99.7h0M406.9 99.9h0M407.6 100.1h0M408.3 100.3h0M409.0 100.5h0M409.7 100.8h0M410.4 101.0h0M411.1 101.2h0M411.8 101.4h0M412.5 101.6h0M413.2 101.9h0M413.9 102.1h0M414.6 102.3h0M415.3 102.5h0M416.0 102.8h0M416.7 103.0h0M417.4 103.2h0M418.1 103.5h0M418.8 103.7h0M419.5 104.0h0M420.2 104.2h0M420.9 104.4h0M421.6 104.7h0M422.3 104.9h0M423.0 105.1h0M423.7 105.4h0M424.4 105.6h0M425.1 105.9h0M425.8 106.1h0M426.5 106.3h0M427.2 106.6h0M427.9 106.8h0M428.6 107.0h0M429.3 107.3h0M430.0 107.5h0M430.7 107.7h0M431.4 107.9h0M432.1 108.2h0M432.8 108.4h0M433.5 108.6h0M434.2 108.8h0M434.9 109.0h0M435.6 109.2h0M436.3 109.4h0M437.0 109.6h0M437.7 109.8h0M438.4 110.0h0M439.1 110.2h0M439.8 110.4h0M440.5 110.6h0M441.2 110.8h0M441.9 111.0h0M442.6 111.1h0M443.3 111.3h0M444.0 111.5h0M444.7 111.6h0M445.4 111.8h0M446.1 112.0h0M446.8 112.1h0M447.5 112.3h0M448.2 112.4h0M448.9 112.6h0M449.6 112.7h0M450.3 112.9h0M451.0 113.0h0M451.7 113.2h0M452.4 113.3h0M453.1 113.5h0M453.8 113.6h0M454.5 113.8h0M455.2 113.9h0M455.9 114.1h0M456.6 114.3h0M457.3 114.4h0M458.0 114.6h0M458.7 114.7h0M459.4 114.9h0M460.1 115.0h0M460.8 115.2h0M461.5 115.4h0M462.2 115.6h0M462.9 115.7h0M463.6 115.9h0M464.3 116.1h0M465.0 116.2h0M465.7 116.4h0M466.4 116.6h0M467.1 116.8h0M467.8 117.0h0M468.5 117.1h0M469.2 117.3h0M469.9 117.5h0M470.6 117.7h0M471.3 117.8h0M472.0 118.0h0M472.7 118.2h0M473.4 118.4h0M474.1 118.5h0M474.8 118.7h0M475.5 118.9h0M476.2 119.1h0M476.9 119.2h0M477.6 119.4h0M478.3 119.6h0M479.0 119.7h0M479.7 119.9h0M480.4 120.1h0M481.1 120.3h0M481.8 120.4h0M482.5 120.6h0M483.2 120.8h0M483.9 120.9h0M484.6 121.1h0M485.3 121.3h0M486.0 121.4h0M486.7 121.6h0M487.4 121.8h0M488.1 121.9h0M488.8 122.1h0M489.5 122.3h0M490.2 122.4h0M490.9 122.6h0M491.6 122.8h0M492.3 122.9h0M493.0 123.1h0M493.7 123.2h0M494.4 123.4h0M495.1 123.6h0M495.8 123.7h0M496.5 123.9h0M497.2 124.1h0M497.9 124.2h0M498.6 124.4h0M499.3 124.5h0M500.0 124.7h0M500.7 124.9h0M501.4 125.0h0M502.1 125.2h0M502.8 125.3h0M503.5 125.5h0M504.2 125.6h0M504.9 125.8h0M505.6 126.0h0M506.3 126.1h0M507.0 126.3h0M507.7 126.4h0M508.4 126.6h0M509.1 126.7h0M509.8 126.9h0M510.5 127.0h0M511.2 127.2h0M511.9 127.4h0M512.6 127.5h0M513.3 127.7h0M514.0 127.8h0M514.7 128.0h0M515.4 128.1h0M516.1 128.3h0M516.8 128.4h0M517.5 128.6h0M518.2 128.7h0M518.9 128.9h0M519.6 129.0h0M520.3 129.2h0M521.0 129.3h0M521.7 129.5h0M522.4 129.6h0M523.1 129.8h0M523.8 129.9h0M524.5 130.1h0M525.2 130.2h0M525.9 130.4h0M526.6 130.5h0M527.3 130.7h0M528.0 130.8h0M528.7 131.0h0M529.4 131.1h0M530.1 131.3h0M530.8 131.4h0M531.5 131.6h0M532.2 131.7h0M532.9 131.9h0M533.6 132.0h0M534.3 132.2h0M535.0 132.3h0M535.7 132.5h0M536.4 132.6h0M537.1 132.8h0M537.8 132.9h0M538.5 133.1h0M539.2 133.2h0M539.9 133.3h0M540.6 133.5h0M541.3 133.6h0M542.0 133.8h0M542.7 133.9h0M543.4 134.1h0M544.1 134.2h0M544.8 134.4h0M545.5 134.5h0M546.2 134.7h0M546.9 134.8h0M547.6 134.9h0M548.3 135.1h0M549.0 135.2h0M549.7 135.4h0M550.4 135.5h0M551.1 135.7h0M551.8 135.8h0M552.5 136.0h0M553.2 136.1h0M553.9 136.2h0M554.6 136.4h0M555.3 136.5h0M556.0 136.7h0M556.7 136.8h0M557.4 137.0h0M558.1 137.1h0M558.8 137.2h0M559.5 137.4h0M560.2 137.5h0M560.9 137.7h0M561.6 137.8h0M562.3 138.0h0M563.0 138.1h0M563.7 138.2h0M564.4 138.4h0M565.1 138.5h0M565.8 138.7h0M566.5 138.8h0M567.2 138.9h0M567.9 139.1h0M568.6 139.2h0M569.3 139.4h0M570.0 139.5h0M570.7 139.7h0M571.4 139.8h0M572.1 139.9h0M572.8 140.1h0M573.5 140.2h0M574.2 140.4h0M574.9 140.5h0M575.6 140.6h0M576.3 140.8h0M577.0 140.9h0M577.7 141.1h0M578.4 141.2h0M579.1 141.3h0M579.8 141.5h0M580.5 141.6h0M581.2 141.8h0M581.9 141.9h0M582.6 142.0h0M583.3 142.2h0M584.0 142.3h0M584.7 142.4h0M585.4 142.6h0M586.1 142.7h0M586.8 142.9h0M587.5 143.0h0M588.2 143.1h0M588.9 143.3h0M589.6 143.4h0M590.3 143.6h0M591.0 143.7h0M591.7 143.8h0M592.4 144.0h0M593.1 144.1h0M593.8 144.2h0M594.5 144.4h0M595.2 144.5h0M595.9 144.7h0M596.6 144.8h0M597.3 144.9h0M598.0 145.1h0M598.7 145.2h0M599.4 145.3h0M600.1 145.5h0M600.8 145.6h0M601.5 145.8h0M602.2 145.9h0M602.9 146.0h0M603.6 146.2h0M604.3 146.3h0M605.0 146.4h0M605.7 146.6h0M606.4 146.7h0M607.1 146.8h0M607.8 147.0h0M608.5 147.1h0M609.2 147.2h0M609.9 147.4h0M610.6 147.5h0M611.3 147.7h0M612.0 147.8h0M612.7 147.9h0M613.4 148.1h0M614.1 148.2h0M614.8 148.3h0M615.5 148.5h0M616.2 148.6h0M616.9 148.7h0M617.6 148.9h0M618.3 149.0h0M619.0 149.1h0M619.7 149.3h0M620.4 149.4h0M621.1 149.5h0M621.8 149.7h0M622.5 149.8h0M623.2 149.9h0M623.9 150.1h0M624.6 150.2h0M625.3 150.3h0M626.0 150.5h0M626.7 150.6h0M627.4 150.7h0M628.1 150.9h0M628.8 151.0h0M629.5 151.2h0M630.2 151.3h0M630.9 151.4h0M631.6 151.6h0M632.3 151.7h0M633.0 151.8h0M633.7 152.0h0M634.4 152.1h0M635.1 152.2h0M635.8 152.3h0M636.5 152.5h0M637.2 152.6h0M637.9 152.7h0M638.6 152.9h0M639.3 153.0h0M640.0 153.1h0M640.7 153.3h0M641.4 153.4h0M642.1 153.5h0M642.8 153.7h0M643.5 153.8h0M644.2 153.9h0M644.9 154.1h0M645.6 154.2h0M646.3 154.3h0M647.0 154.5h0M647.7 154.6h0M648.4 154.7h0M649.1 154.9h0M649.8 155.0h0M650.5 155.1h0M651.2 155.3h0M651.9 155.4h0M652.6 155.5h0M653.3 155.7h0M654.0 155.8h0M654.7 155.9h0M655.4 156.1h0M656.1 156.2h0M656.8 156.3h0M657.5 156.4h0M658.2 156.6h0M658.9 156.7h0M659.6 156.8h0M660.3 157.0h0M661.0 157.1h0M661.7 157.2h0M662.4 157.4h0M663.1 157.5h0M663.8 157.6h0M664.5 157.8h0M665.2 157.9h0M665.9 158.0h0M666.6 158.2h0M667.3 158.3h0M668.0 158.4h0M668.7 158.5h0M669.4 158.7h0M670.1 158.8h0M670.8 158.9h0M671.5 159.1h0M672.2 159.2h0M672.9 159.3h0M673.6 159.5h0M674.3 159.6h0M675.0 159.7h0M675.7 159.8h0M676.4 160.0h0M677.1 160.1h0M677.8 160.2h0M678.5 160.4h0M679.2 160.5h0M679.9 160.6h0M680.6 160.8h0M681.3 160.9h0M682.0 161.0h0M682.7 161.2h0M683.4 161.3h0M684.1 161.4h0M684.8 161.5h0M685.5 161.7h0M686.2 161.8h0M686.9 161.9h0M687.6 162.1h0M688.3 162.2h0M689.0 162.3h0M689.7 162.5h0M690.4 162.6h0M691.1 162.7h0M691.8 162.8h0M692.5 163.0h0M693.2 163.1h0M693.9 163.2h0M694.6 163.4h0M695.3 163.5h0M696.0 163.6h0M696.7 163.7h0M697.4 163.9h0M698.1 164.0h0M698.8 164.1h0M699.5 164.3h0M700.2 164.4h0M700.9 164.5h0M701.6 164.7h0M702.3 164.8h0M703.0 164.9h0M703.7 165.0h0M704.4 165.2h0M705.1 165.3h0M705.8 165.4h0M706.5 165.6h0M707.2 165.7h0M707.9 165.8h0M708.6 166.0h0M709.3 166.1h0M710.0 166.2h0M710.7 166.3h0M711.4 166.5h0M712.1 166.6h0M712.8 166.7h0M713.5 166.9h0M714.2 167.0h0M714.9 167.1h0M715.6 167.2h0M716.3 167.4h0M717.0 167.5h0M717.7 167.6h0M718.4 167.8h0M719.1 167.9h0M719.8 168.0h0M720.5 168.2h0M721.2 168.3h0M721.9 168.4h0M722.6 168.5h0M723.3 168.7h0M724.0 168.8h0M724.7 168.9h0M725.4 169.1h0M726.1 169.2h0M726.8 169.3h0M727.5 169.4h0M728.2 169.6h0M728.9 169.7h0M729.6 169.8h0M730.3 170.0h0M731.0 170.1h0M731.7 170.2h0M732.4 170.4h0M733.1 170.5h0M733.8 170.6h0M734.5 170.7h0M735.2 170.9h0M735.9 171.0h0M736.6 171.1h0M737.3 171.3h0" stroke-width="3.2"/></g>
<g stroke="#ff5a00"><path d="M94.0 513.9h0M94.7 512.0h0M95.4 509.9h0M96.1 507.6h0M96.8 505.1h0M97.5 502.5h0M98.2 499.7h0M98.9 496.7h0M99.6 493.6h0M100.3 490.3h0M101.0 487.1h0M101.7 483.9h0M102.4 480.6h0M103.1 477.4h0M103.8 474.2h0M104.5 471.0h0M105.2 467.8h0M105.9 464.6h0M106.6 461.4h0M107.3 458.2h0M108.0 455.0h0M108.7 451.9h0M109.4 448.7h0M110.1 445.5h0M110.8 442.3h0M111.5 439.2h0M112.2 436.0h0M112.9 432.9h0M113.6 429.7h0M114.3 426.6h0M115.0 423.4h0M115.7 420.3h0M116.4 417.1h0M117.1 414.0h0M117.8 410.8h0M118.5 407.7h0M119.2 404.5h0M119.9 401.4h0M120.6 398.3h0M121.3 395.1h0M122.0 392.0h0M122.7 388.8h0M123.4 385.7h0M124.1 382.5h0M124.8 379.4h0M125.5 376.2h0M126.2 373.1h0M126.9 369.9h0M127.6 366.8h0M128.3 363.6h0M129.0 360.4h0M129.7 357.3h0M130.4 354.1h0M131.1 350.9h0M131.8 347.7h0M132.5 344.5h0M133.2 341.3h0M133.9 338.1h0M134.6 334.9h0M135.3 331.7h0M136.0 328.5h0M136.7 325.3h0M137.4 322.0h0M138.1 318.8h0M138.8 315.6h0M139.5 312.3h0M140.2 309.1h0M140.9 305.8h0M141.6 302.6h0M142.3 299.3h0M143.0 296.1h0M143.7 292.8h0M144.4 289.6h0M145.1 286.4h0M145.8 283.1h0M146.5 279.9h0M147.2 276.7h0M147.9 273.5h0M148.6 270.4h0M149.3 267.2h0M150.0 264.1h0M150.7 260.9h0M151.4 257.8h0M152.1 254.7h0M152.8 251.6h0M153.5 248.6h0M154.2 245.5h0M154.9 242.5h0M155.6 239.5h0M156.3 236.6h0M157.0 233.6h0M157.7 230.7h0M158.4 227.8h0M159.1 224.9h0M159.8 222.1h0M160.5 219.2h0M161.2 216.4h0M161.9 213.6h0M162.6 210.9h0M163.3 208.1h0M164.0 205.4h0M164.7 202.8h0M165.4 200.1h0M166.1 197.5h0M166.8 194.9h0M167.5 192.3h0M168.2 189.7h0M168.9 187.2h0M169.6 184.7h0M170.3 182.2h0M171.0 179.7h0M171.7 177.3h0M172.4 174.9h0M173.1 172.5h0M173.8 170.1h0M174.5 167.8h0M175.2 165.4h0M175.9 163.1h0M176.6 160.9h0M177.3 158.6h0M178.0 156.4h0M178.7 154.2h0M179.4 152.0h0M180.1 149.8h0M180.8 147.6h0M181.5 145.5h0M182.2 143.4h0M182.9 141.3h0M183.6 139.2h0M184.3 137.2h0M185.0 135.2h0M185.7 133.2h0M186.4 131.2h0M187.1 129.2h0M187.8 127.2h0M188.5 125.3h0M189.2 123.4h0M189.9 121.5h0M190.6 119.7h0M191.3 117.8h0M192.0 116.1h0" stroke-width="2.0"/><path d="M82.8 532.8h0M83.5 532.0h0M84.2 531.2h0M84.9 530.4h0M85.6 529.6h0M86.3 528.6h0M87.0 527.7h0M87.7 526.6h0M88.4 525.5h0M89.1 524.4h0M89.8 523.1h0M90.5 521.8h0M91.2 520.5h0M91.9 519.0h0M92.6 517.4h0M93.3 515.7h0M192.7 114.3h0M193.4 112.6h0M194.1 110.9h0M194.8 109.3h0M195.5 107.7h0M196.2 106.2h0M196.9 104.6h0M197.6 103.2h0M198.3 101.7h0M199.0 100.3h0M199.7 98.9h0M200.4 97.6h0M201.1 96.3h0M201.8 95.0h0M202.5 93.8h0M203.2 92.6h0M203.9 91.4h0M204.6 90.3h0M205.3 89.1h0M206.0 88.0h0M206.7 87.0h0M207.4 86.0h0M208.1 84.9h0M208.8 84.0h0M209.5 83.0h0M210.2 82.1h0M210.9 81.2h0M211.6 80.3h0M212.3 79.4h0M213.0 78.5h0M213.7 77.7h0M214.4 76.9h0M215.1 76.1h0M215.8 75.4h0M216.5 74.6h0M217.2 73.9h0" stroke-width="2.3"/><path d="M72.3 539.7h0M73.0 539.4h0M73.7 539.1h0M74.4 538.8h0M75.1 538.5h0M75.8 538.1h0M76.5 537.7h0M77.2 537.3h0M77.9 536.8h0M78.6 536.4h0M79.3 535.8h0M80.0 535.3h0M80.7 534.7h0M81.4 534.1h0M82.1 533.4h0M217.9 73.2h0M218.6 72.5h0M219.3 71.9h0M220.0 71.2h0M220.7 70.6h0M221.4 70.0h0M222.1 69.5h0M222.8 68.9h0M223.5 68.4h0M224.2 67.9h0M224.9 67.4h0M225.6 66.9h0M226.3 66.4h0M227.0 66.0h0M227.7 65.6h0M228.4 65.2h0M229.1 64.8h0M229.8 64.5h0M230.5 64.1h0M231.2 63.8h0M231.9 63.5h0M232.6 63.2h0M233.3 62.9h0M234.0 62.7h0M234.7 62.4h0M235.4 62.2h0M236.1 62.0h0M236.8 61.8h0M237.5 61.7h0M238.2 61.5h0M238.9 61.4h0M239.6 61.2h0M240.3 61.1h0M241.0 61.0h0M241.7 60.9h0M242.4 60.8h0M243.1 60.8h0M243.8 60.7h0M244.5 60.7h0M245.2 60.6h0M245.9 60.6h0M246.6 60.6h0M247.3 60.6h0M248.0 60.5h0M248.7 60.6h0M249.4 60.6h0M250.1 60.6h0M250.8 60.6h0M251.5 60.7h0M252.2 60.7h0M252.9 60.8h0M253.6 60.9h0M254.3 60.9h0M255.0 61.0h0M255.7 61.1h0M256.4 61.2h0M257.1 61.3h0M257.8 61.4h0M258.5 61.5h0M259.2 61.7h0M259.9 61.8h0M260.6 61.9h0M261.3 62.1h0M262.0 62.2h0M262.7 62.4h0M263.4 62.6h0M264.1 62.7h0M264.8 62.9h0M265.5 63.1h0M266.2 63.3h0M266.9 63.5h0M267.6 63.7h0M268.3 63.9h0M269.0 64.1h0M269.7 64.3h0M270.4 64.5h0M271.1 64.7h0M271.8 64.9h0M272.5 65.2h0M273.2 65.4h0M273.9 65.6h0M274.6 65.9h0M275.3 66.1h0M276.0 66.3h0M276.7 66.6h0M277.4 66.8h0M278.1 67.1h0M278.8 67.3h0M279.5 67.6h0M280.2 67.8h0M280.9 68.1h0M281.6 68.4h0M282.3 68.6h0M283.0 68.9h0M283.7 69.2h0M284.4 69.4h0M285.1 69.7h0M285.8 70.0h0M286.5 70.3h0M287.2 70.5h0M287.9 70.8h0M288.6 71.1h0M289.3 71.4h0M290.0 71.6h0M290.7 71.9h0M291.4 72.2h0M292.1 72.5h0M292.8 72.7h0M293.5 73.0h0M294.2 73.3h0M294.9 73.6h0M295.6 73.9h0M296.3 74.1h0M297.0 74.4h0M297.7 74.7h0M298.4 75.0h0M299.1 75.2h0M299.8 75.5h0M300.5 75.8h0M301.2 76.1h0M301.9 76.3h0M302.6 76.6h0M303.3 76.9h0M304.0 77.1h0M304.7 77.4h0M305.4 77.7h0M306.1 77.9h0M306.8 78.2h0M307.5 78.5h0M308.2 78.7h0M308.9 79.0h0M309.6 79.2h0M310.3 79.5h0M311.0 79.8h0M311.7 80.0h0M312.4 80.3h0M313.1 80.5h0M313.8 80.8h0M314.5 81.0h0M315.2 81.3h0M315.9 81.5h0M316.6 81.8h0M317.3 82.0h0M318.0 82.3h0M318.7 82.5h0M319.4 82.8h0M320.1 83.0h0M320.8 83.3h0M321.5 83.5h0M322.2 83.7h0M322.9 84.0h0M323.6 84.2h0M324.3 84.5h0M325.0 84.7h0M325.7 85.0h0M326.4 85.2h0M327.1 85.4h0M327.8 85.7h0M328.5 85.9h0M329.2 86.2h0M329.9 86.4h0M330.6 86.6h0M331.3 86.9h0M332.0 87.1h0M332.7 87.4h0M333.4 87.6h0M334.1 87.8h0M334.8 88.1h0M335.5 88.3h0M336.2 88.5h0M336.9 88.8h0M337.6 89.0h0M338.3 89.2h0M339.0 89.5h0M339.7 89.7h0M340.4 90.0h0M341.1 90.2h0M341.8 90.4h0M342.5 90.7h0M343.2 90.9h0M343.9 91.1h0M344.6 91.4h0M345.3 91.6h0M346.0 91.9h0M346.7 92.1h0M347.4 92.3h0M348.1 92.6h0M348.8 92.8h0M349.5 93.1h0M350.2 93.3h0M350.9 93.5h0M351.6 93.8h0M352.3 94.0h0M353.0 94.3h0M353.7 94.5h0M354.4 94.7h0M355.1 95.0h0M355.8 95.2h0M356.5 95.5h0M357.2 95.7h0M357.9 96.0h0M358.6 96.2h0M359.3 96.4h0M360.0 96.7h0M360.7 96.9h0M361.4 97.2h0M362.1 97.4h0M362.8 97.7h0M363.5 97.9h0M364.2 98.2h0M364.9 98.4h0M365.6 98.7h0M366.3 99.0h0M367.0 99.2h0M367.7 99.5h0M368.4 99.7h0M369.1 100.0h0M369.8 100.2h0M370.5 100.5h0M371.2 100.8h0M371.9 101.0h0M372.6 101.3h0M373.3 101.6h0M374.0 101.8h0M374.7 102.1h0M375.4 102.4h0M376.1 102.6h0M376.8 102.9h0M377.5 103.2h0M378.2 103.4h0M378.9 103.7h0M379.6 104.0h0M380.3 104.3h0M381.0 104.6h0M381.7 104.8h0M382.4 105.1h0M383.1 105.4h0M383.8 105.7h0M384.5 106.0h0M385.2 106.3h0M385.9 106.6h0M386.6 106.8h0M387.3 107.1h0M388.0 107.4h0M388.7 107.7h0M389.4 108.0h0M390.1 108.3h0M390.8 108.6h0M391.5 108.9h0M392.2 109.2h0M392.9 109.5h0M393.6 109.8h0M394.3 110.1h0M395.0 110.4h0M395.7 110.7h0M396.4 111.0h0M397.1 111.3h0M397.8 111.6h0M398.5 111.9h0M399.2 112.2h0M399.9 112.5h0M400.6 112.8h0M401.3 113.1h0M402.0 113.4h0M402.7 113.7h0M403.4 114.0h0M404.1 114.4h0M404.8 114.7h0M405.5 115.0h0M406.2 115.3h0M406.9 115.6h0M407.6 115.9h0M408.3 116.2h0M409.0 116.5h0M409.7 116.8h0M410.4 117.1h0M411.1 117.4h0M411.8 117.8h0M412.5 118.1h0M413.2 118.4h0M413.9 118.7h0M414.6 119.0h0M415.3 119.3h0M416.0 119.6h0M416.7 119.9h0M417.4 120.2h0M418.1 120.5h0M418.8 120.8h0M419.5 121.2h0M420.2 121.5h0M420.9 121.8h0M421.6 122.1h0M422.3 122.4h0M423.0 122.7h0M423.7 123.0h0M424.4 123.3h0M425.1 123.6h0M425.8 123.9h0M426.5 124.2h0M427.2 124.5h0M427.9 124.8h0M428.6 125.1h0M429.3 125.4h0M430.0 125.7h0M430.7 126.0h0M431.4 126.3h0M432.1 126.6h0M432.8 126.9h0M433.5 127.2h0M434.2 127.5h0M434.9 127.8h0M435.6 128.1h0M436.3 128.4h0M437.0 128.7h0M437.7 128.9h0M438.4 129.2h0M439.1 129.5h0M439.8 129.8h0M440.5 130.1h0M441.2 130.4h0M441.9 130.6h0M442.6 130.9h0M443.3 131.2h0M444.0 131.5h0M444.7 131.8h0M445.4 132.0h0M446.1 132.3h0M446.8 132.6h0M447.5 132.9h0M448.2 133.1h0M448.9 133.4h0M449.6 133.7h0M450.3 133.9h0M451.0 134.2h0M451.7 134.5h0M452.4 134.8h0M453.1 135.0h0M453.8 135.3h0M454.5 135.6h0M455.2 135.8h0M455.9 136.1h0M456.6 136.3h0M457.3 136.6h0M458.0 136.9h0M458.7 137.1h0M459.4 137.4h0M460.1 137.7h0M460.8 137.9h0M461.5 138.2h0M462.2 138.4h0M462.9 138.7h0M463.6 139.0h0M464.3 139.2h0M465.0 139.5h0M465.7 139.7h0M466.4 140.0h0M467.1 140.2h0M467.8 140.5h0M468.5 140.8h0M469.2 141.0h0M469.9 141.3h0M470.6 141.5h0M471.3 141.8h0M472.0 142.0h0M472.7 142.3h0M473.4 142.6h0M474.1 142.8h0M474.8 143.1h0M475.5 143.3h0M476.2 143.6h0M476.9 143.8h0M477.6 144.1h0M478.3 144.4h0M479.0 144.6h0M479.7 144.9h0M480.4 145.1h0M481.1 145.4h0M481.8 145.6h0M482.5 145.9h0M483.2 146.2h0M483.9 146.4h0M484.6 146.7h0M485.3 146.9h0M486.0 147.2h0M486.7 147.5h0M487.4 147.7h0M488.1 148.0h0M488.8 148.2h0M489.5 148.5h0M490.2 148.8h0M490.9 149.0h0M491.6 149.3h0M492.3 149.6h0M493.0 149.8h0M493.7 150.1h0M494.4 150.4h0M495.1 150.6h0M495.8 150.9h0M496.5 151.2h0M497.2 151.4h0M497.9 151.7h0M498.6 152.0h0M499.3 152.3h0M500.0 152.5h0M500.7 152.8h0M501.4 153.1h0M502.1 153.4h0M502.8 153.6h0M503.5 153.9h0M504.2 154.2h0M504.9 154.5h0M505.6 154.8h0M506.3 155.0h0M507.0 155.3h0M507.7 155.6h0M508.4 155.9h0M509.1 156.2h0M509.8 156.5h0M510.5 156.8h0M511.2 157.1h0M511.9 157.4h0M512.6 157.7h0M513.3 158.0h0M514.0 158.3h0M514.7 158.6h0M515.4 158.9h0M516.1 159.2h0M516.8 159.5h0M517.5 159.8h0M518.2 160.1h0M518.9 160.4h0M519.6 160.7h0M520.3 161.0h0M521.0 161.3h0M521.7 161.7h0M522.4 162.0h0M523.1 162.3h0M523.8 162.6h0M524.5 163.0h0M525.2 163.3h0M525.9 163.6h0M526.6 163.9h0M527.3 164.3h0M528.0 164.6h0M528.7 164.9h0M529.4 165.3h0M530.1 165.6h0M530.8 165.9h0M531.5 166.3h0M532.2 166.6h0M532.9 167.0h0M533.6 167.3h0M534.3 167.6h0M535.0 168.0h0M535.7 168.3h0M536.4 168.7h0M537.1 169.0h0M537.8 169.3h0M538.5 169.7h0M539.2 170.0h0M539.9 170.4h0M540.6 170.7h0M541.3 171.1h0M542.0 171.4h0M542.7 171.8h0M543.4 172.1h0M544.1 172.5h0M544.8 172.8h0M545.5 173.2h0M546.2 173.5h0M546.9 173.9h0M547.6 174.2h0M548.3 174.6h0M549.0 174.9h0M549.7 175.3h0M550.4 175.6h0M551.1 176.0h0M551.8 176.3h0M552.5 176.7h0M553.2 177.0h0M553.9 177.3h0M554.6 177.7h0M555.3 178.0h0M556.0 178.4h0M556.7 178.7h0M557.4 179.1h0M558.1 179.4h0M558.8 179.7h0M559.5 180.1h0M560.2 180.4h0M560.9 180.8h0M561.6 181.1h0M562.3 181.4h0M563.0 181.8h0M563.7 182.1h0M564.4 182.4h0M565.1 182.8h0M565.8 183.1h0M566.5 183.4h0M567.2 183.8h0M567.9 184.1h0M568.6 184.4h0M569.3 184.7h0M570.0 185.1h0M570.7 185.4h0M571.4 185.7h0M572.1 186.0h0M572.8 186.3h0M573.5 186.6h0M574.2 187.0h0M574.9 187.3h0M575.6 187.6h0M576.3 187.9h0M577.0 188.2h0M577.7 188.5h0M578.4 188.8h0M579.1 189.1h0M579.8 189.4h0M580.5 189.7h0M581.2 190.0h0M581.9 190.3h0M582.6 190.6h0M583.3 190.9h0M584.0 191.1h0M584.7 191.4h0M585.4 191.7h0M586.1 192.0h0M586.8 192.3h0M587.5 192.5h0M588.2 192.8h0M588.9 193.1h0M589.6 193.3h0M590.3 193.6h0M591.0 193.9h0M591.7 194.1h0M592.4 194.4h0M593.1 194.6h0M593.8 194.9h0M594.5 195.1h0M595.2 195.4h0M595.9 195.6h0M596.6 195.9h0M597.3 196.1h0M598.0 196.3h0M598.7 196.6h0M599.4 196.8h0M600.1 197.0h0M600.8 197.2h0M601.5 197.5h0M602.2 197.7h0M602.9 197.9h0M603.6 198.1h0M604.3 198.3h0M605.0 198.5h0M605.7 198.7h0M606.4 198.9h0M607.1 199.1h0M607.8 199.3h0M608.5 199.5h0M609.2 199.7h0M609.9 199.9h0M610.6 200.1h0M611.3 200.3h0M612.0 200.5h0M612.7 200.6h0M613.4 200.8h0M614.1 201.0h0M614.8 201.2h0M615.5 201.3h0M616.2 201.5h0M616.9 201.7h0M617.6 201.9h0M618.3 202.0h0M619.0 202.2h0M619.7 202.4h0M620.4 202.5h0M621.1 202.7h0M621.8 202.8h0M622.5 203.0h0M623.2 203.2h0M623.9 203.3h0M624.6 203.5h0M625.3 203.6h0M626.0 203.8h0M626.7 203.9h0M627.4 204.1h0M628.1 204.2h0M628.8 204.4h0M629.5 204.5h0M630.2 204.7h0M630.9 204.8h0M631.6 205.0h0M632.3 205.1h0M633.0 205.3h0M633.7 205.4h0M634.4 205.6h0M635.1 205.7h0M635.8 205.9h0M636.5 206.0h0M637.2 206.1h0M637.9 206.3h0M638.6 206.4h0M639.3 206.6h0M640.0 206.7h0M640.7 206.9h0M641.4 207.0h0M642.1 207.2h0M642.8 207.3h0M643.5 207.4h0M644.2 207.6h0M644.9 207.7h0M645.6 207.9h0M646.3 208.0h0M647.0 208.2h0M647.7 208.3h0M648.4 208.5h0M649.1 208.6h0M649.8 208.8h0M650.5 208.9h0M651.2 209.1h0M651.9 209.2h0M652.6 209.4h0M653.3 209.5h0M654.0 209.7h0M654.7 209.8h0M655.4 210.0h0M656.1 210.1h0M656.8 210.3h0M657.5 210.4h0M658.2 210.6h0M658.9 210.8h0M659.6 210.9h0M660.3 211.1h0M661.0 211.3h0M661.7 211.4h0M662.4 211.6h0M663.1 211.8h0M663.8 211.9h0M664.5 212.1h0M665.2 212.3h0M665.9 212.4h0M666.6 212.6h0M667.3 212.8h0M668.0 213.0h0M668.7 213.2h0M669.4 213.3h0M670.1 213.5h0M670.8 213.7h0M671.5 213.9h0M672.2 214.1h0M672.9 214.3h0M673.6 214.5h0M674.3 214.7h0M675.0 214.9h0M675.7 215.1h0M676.4 215.3h0M677.1 215.5h0M677.8 215.7h0M678.5 215.9h0M679.2 216.1h0M679.9 216.4h0M680.6 216.6h0M681.3 216.8h0M682.0 217.0h0M682.7 217.3h0M683.4 217.5h0M684.1 217.7h0M684.8 218.0h0" stroke-width="2.9"/></g>
<g stroke="#e000e0"><path d="M114.3 500.4h0M115.0 498.6h0M115.7 496.7h0M116.4 494.8h0M117.1 492.7h0M117.8 490.7h0M118.5 488.5h0M119.2 486.3h0M119.9 484.0h0M120.6 481.6h0M121.3 479.1h0M122.0 476.5h0M122.7 473.9h0M123.4 471.2h0M124.1 468.4h0M124.8 465.5h0M125.5 462.5h0M126.2 459.5h0M126.9 456.4h0M127.6 453.3h0M128.3 450.2h0M129.0 447.1h0M129.7 443.9h0M130.4 440.8h0M131.1 437.8h0M131.8 434.7h0M132.5 431.6h0M133.2 428.6h0M133.9 425.6h0M134.6 422.6h0M135.3 419.6h0M136.0 416.5h0M136.7 413.5h0M137.4 410.5h0M138.1 407.5h0M138.8 404.6h0M139.5 401.5h0M140.2 398.5h0M140.9 395.5h0M141.6 392.5h0M142.3 389.5h0M143.0 386.5h0M143.7 383.4h0M144.4 380.3h0M145.1 377.3h0M145.8 374.2h0M146.5 371.0h0M147.2 367.9h0M147.9 364.7h0M148.6 361.6h0M149.3 358.4h0M150.0 355.2h0M150.7 351.9h0M151.4 348.7h0M152.1 345.4h0M152.8 342.2h0M153.5 338.9h0M154.2 335.6h0M154.9 332.3h0M155.6 329.0h0M156.3 325.7h0M157.0 322.4h0M157.7 319.1h0M158.4 315.8h0M159.1 312.4h0M159.8 309.1h0M160.5 305.8h0M161.2 302.5h0M161.9 299.2h0M162.6 295.9h0M163.3 292.7h0M164.0 289.4h0M164.7 286.2h0M165.4 282.9h0M166.1 279.7h0M166.8 276.5h0M167.5 273.3h0M168.2 270.1h0M168.9 267.0h0M169.6 263.9h0M170.3 260.7h0M171.0 257.7h0M171.7 254.6h0M172.4 251.5h0M173.1 248.5h0M173.8 245.5h0M174.5 242.5h0M175.2 239.6h0M175.9 236.6h0M176.6 233.7h0M177.3 230.8h0M178.0 227.9h0M178.7 225.1h0M179.4 222.3h0M180.1 219.4h0M180.8 216.7h0M181.5 213.9h0M182.2 211.1h0M182.9 208.4h0M183.6 205.7h0M184.3 203.0h0M185.0 200.3h0M185.7 197.7h0M186.4 195.0h0M187.1 192.3h0M187.8 189.7h0M188.5 187.1h0M189.2 184.4h0M189.9 181.8h0M190.6 179.2h0M191.3 176.6h0M192.0 174.0h0M192.7 171.4h0M193.4 168.9h0M194.1 166.3h0M194.8 163.8h0M195.5 161.3h0M196.2 158.9h0M196.9 156.4h0M197.6 154.0h0M198.3 151.7h0M199.0 149.3h0M199.7 147.0h0M200.4 144.8h0M201.1 142.5h0M201.8 140.3h0M202.5 138.2h0M203.2 136.0h0M203.9 134.0h0M204.6 131.9h0M205.3 129.9h0M206.0 127.9h0M206.7 126.0h0M207.4 124.1h0M208.1 122.2h0M208.8 120.3h0M209.5 118.5h0M210.2 116.7h0" stroke-width="2.2"/><path d="M97.5 530.0h0M98.2 529.2h0M98.9 528.4h0M99.6 527.6h0M100.3 526.8h0M101.0 525.9h0M101.7 525.0h0M102.4 524.0h0M103.1 523.0h0M103.8 521.9h0M104.5 520.8h0M105.2 519.7h0M105.9 518.5h0M106.6 517.2h0M107.3 515.9h0M108.0 514.6h0M108.7 513.2h0M109.4 511.8h0M110.1 510.3h0M110.8 508.8h0M111.5 507.2h0M112.2 505.6h0M112.9 503.9h0M113.6 502.2h0M210.9 115.0h0M211.6 113.3h0M212.3 111.6h0M213.0 109.9h0M213.7 108.3h0M214.4 106.7h0M215.1 105.1h0M215.8 103.6h0M216.5 102.1h0M217.2 100.6h0M217.9 99.1h0M218.6 97.7h0M219.3 96.3h0M220.0 94.9h0M220.7 93.6h0M221.4 92.3h0M222.1 91.0h0M222.8 89.8h0M223.5 88.6h0M224.2 87.4h0M224.9 86.2h0M225.6 85.1h0M226.3 84.0h0M227.0 83.0h0M227.7 81.9h0M228.4 80.9h0M229.1 79.9h0M229.8 79.0h0M230.5 78.0h0M231.2 77.1h0M231.9 76.2h0M232.6 75.4h0M233.3 74.5h0M234.0 73.7h0M234.7 72.9h0M235.4 72.1h0M236.1 71.3h0M236.8 70.6h0M237.5 69.9h0" stroke-width="2.7"/><path d="M72.3 539.8h0M73.0 539.9h0M73.7 539.9h0M74.4 539.9h0M75.1 539.9h0M75.8 539.9h0M76.5 539.9h0M77.2 539.9h0M77.9 539.8h0M78.6 539.8h0M79.3 539.7h0M80.0 539.6h0M80.7 539.4h0M81.4 539.3h0M82.1 539.1h0M82.8 539.0h0M83.5 538.8h0M84.2 538.5h0M84.9 538.3h0M85.6 538.0h0M86.3 537.8h0M87.0 537.5h0M87.7 537.1h0M88.4 536.8h0M89.1 536.4h0M89.8 536.0h0M90.5 535.6h0M91.2 535.2h0M91.9 534.7h0M92.6 534.2h0M93.3 533.7h0M94.0 533.2h0M94.7 532.6h0M95.4 532.0h0M96.1 531.3h0M96.8 530.7h0M238.2 69.2h0M238.9 68.5h0M239.6 67.8h0M240.3 67.2h0M241.0 66.6h0M241.7 66.0h0M242.4 65.4h0M243.1 64.9h0M243.8 64.3h0M244.5 63.8h0M245.2 63.3h0M245.9 62.8h0M246.6 62.3h0M247.3 61.9h0M248.0 61.5h0M248.7 61.1h0M249.4 60.7h0M250.1 60.3h0M250.8 60.0h0M251.5 59.6h0M252.2 59.3h0M252.9 59.0h0M253.6 58.7h0M254.3 58.5h0M255.0 58.2h0M255.7 58.0h0M256.4 57.8h0M257.1 57.6h0M257.8 57.4h0M258.5 57.3h0M259.2 57.1h0M259.9 57.0h0M260.6 56.9h0M261.3 56.8h0M262.0 56.7h0M262.7 56.7h0M263.4 56.6h0M264.1 56.6h0M264.8 56.6h0M265.5 56.6h0M266.2 56.6h0M266.9 56.6h0M267.6 56.6h0M268.3 56.6h0M269.0 56.7h0M269.7 56.8h0M270.4 56.8h0M271.1 56.9h0M271.8 57.0h0M272.5 57.1h0M273.2 57.3h0M273.9 57.4h0M274.6 57.5h0M275.3 57.7h0M276.0 57.8h0M276.7 58.0h0M277.4 58.2h0M278.1 58.3h0M278.8 58.5h0M279.5 58.7h0M280.2 58.9h0M280.9 59.0h0M281.6 59.2h0M282.3 59.4h0M283.0 59.6h0M283.7 59.8h0M284.4 60.0h0M285.1 60.2h0M285.8 60.4h0M286.5 60.6h0M287.2 60.8h0M287.9 61.0h0M288.6 61.2h0M289.3 61.4h0M290.0 61.6h0M290.7 61.8h0M291.4 62.1h0M292.1 62.3h0M292.8 62.5h0M293.5 62.7h0M294.2 62.9h0M294.9 63.2h0M295.6 63.4h0M296.3 63.6h0M297.0 63.9h0M297.7 64.1h0M298.4 64.3h0M299.1 64.6h0M299.8 64.8h0M300.5 65.1h0M301.2 65.3h0M301.9 65.6h0M302.6 65.8h0M303.3 66.1h0M304.0 66.3h0M304.7 66.6h0M305.4 66.8h0M306.1 67.1h0M306.8 67.3h0M307.5 67.6h0M308.2 67.9h0M308.9 68.1h0M309.6 68.4h0M310.3 68.6h0M311.0 68.9h0M311.7 69.2h0M312.4 69.4h0M313.1 69.7h0M313.8 70.0h0M314.5 70.3h0M315.2 70.5h0M315.9 70.8h0M316.6 71.1h0M317.3 71.3h0M318.0 71.6h0M318.7 71.9h0M319.4 72.2h0M320.1 72.4h0M320.8 72.7h0M321.5 73.0h0M322.2 73.2h0M322.9 73.5h0M323.6 73.8h0M324.3 74.1h0M325.0 74.3h0M325.7 74.6h0M326.4 74.9h0M327.1 75.2h0M327.8 75.4h0M328.5 75.7h0M329.2 76.0h0M329.9 76.2h0M330.6 76.5h0M331.3 76.8h0M332.0 77.1h0M332.7 77.3h0M333.4 77.6h0M334.1 77.9h0M334.8 78.1h0M335.5 78.4h0M336.2 78.7h0M336.9 79.0h0M337.6 79.2h0M338.3 79.5h0M339.0 79.8h0M339.7 80.0h0M340.4 80.3h0M341.1 80.6h0M341.8 80.8h0M342.5 81.1h0M343.2 81.4h0M343.9 81.7h0M344.6 81.9h0M345.3 82.2h0M346.0 82.5h0M346.7 82.7h0M347.4 83.0h0M348.1 83.3h0M348.8 83.5h0M349.5 83.8h0M350.2 84.1h0M350.9 84.3h0M351.6 84.6h0M352.3 84.9h0M353.0 85.1h0M353.7 85.4h0M354.4 85.6h0M355.1 85.9h0M355.8 86.2h0M356.5 86.4h0M357.2 86.7h0M357.9 87.0h0M358.6 87.2h0M359.3 87.5h0M360.0 87.7h0M360.7 88.0h0M361.4 88.2h0M362.1 88.5h0M362.8 88.8h0M363.5 89.0h0M364.2 89.3h0M364.9 89.5h0M365.6 89.8h0M366.3 90.0h0M367.0 90.3h0M367.7 90.5h0M368.4 90.8h0M369.1 91.1h0M369.8 91.3h0M370.5 91.6h0M371.2 91.8h0M371.9 92.1h0M372.6 92.3h0M373.3 92.5h0M374.0 92.8h0M374.7 93.0h0M375.4 93.3h0M376.1 93.5h0M376.8 93.8h0M377.5 94.0h0M378.2 94.3h0M378.9 94.5h0M379.6 94.7h0M380.3 95.0h0M381.0 95.2h0M381.7 95.5h0M382.4 95.7h0M383.1 95.9h0M383.8 96.2h0M384.5 96.4h0M385.2 96.6h0M385.9 96.9h0M386.6 97.1h0M387.3 97.3h0M388.0 97.6h0M388.7 97.8h0M389.4 98.0h0M390.1 98.3h0M390.8 98.5h0M391.5 98.7h0M392.2 98.9h0M392.9 99.2h0M393.6 99.4h0M394.3 99.6h0M395.0 99.8h0M395.7 100.1h0M396.4 100.3h0M397.1 100.5h0M397.8 100.7h0M398.5 101.0h0M399.2 101.2h0M399.9 101.4h0M400.6 101.6h0M401.3 101.8h0M402.0 102.1h0M402.7 102.3h0M403.4 102.5h0M404.1 102.7h0M404.8 102.9h0M405.5 103.1h0M406.2 103.3h0M406.9 103.6h0M407.6 103.8h0M408.3 104.0h0M409.0 104.2h0M409.7 104.4h0M410.4 104.6h0M411.1 104.8h0M411.8 105.0h0M412.5 105.2h0M413.2 105.4h0M413.9 105.6h0M414.6 105.9h0M415.3 106.1h0M416.0 106.3h0M416.7 106.5h0M417.4 106.7h0M418.1 106.9h0M418.8 107.1h0M419.5 107.3h0M420.2 107.5h0M420.9 107.7h0M421.6 107.9h0M422.3 108.1h0M423.0 108.3h0M423.7 108.5h0M424.4 108.7h0M425.1 108.9h0M425.8 109.1h0M426.5 109.3h0M427.2 109.5h0M427.9 109.7h0M428.6 109.9h0M429.3 110.1h0M430.0 110.2h0M430.7 110.4h0M431.4 110.6h0M432.1 110.8h0M432.8 111.0h0M433.5 111.2h0M434.2 111.4h0M434.9 111.6h0M435.6 111.8h0M436.3 112.0h0M437.0 112.2h0M437.7 112.3h0M438.4 112.5h0M439.1 112.7h0M439.8 112.9h0M440.5 113.1h0M441.2 113.3h0M441.9 113.5h0M442.6 113.7h0M443.3 113.8h0M444.0 114.0h0M444.7 114.2h0M445.4 114.4h0M446.1 114.6h0M446.8 114.8h0M447.5 114.9h0M448.2 115.1h0M448.9 115.3h0M449.6 115.5h0M450.3 115.7h0M451.0 115.8h0M451.7 116.0h0M452.4 116.2h0M453.1 116.4h0M453.8 116.6h0M454.5 116.7h0M455.2 116.9h0M455.9 117.1h0M456.6 117.3h0M457.3 117.5h0M458.0 117.6h0M458.7 117.8h0M459.4 118.0h0M460.1 118.2h0M460.8 118.3h0M461.5 118.5h0M462.2 118.7h0M462.9 118.9h0M463.6 119.0h0M464.3 119.2h0M465.0 119.4h0M465.7 119.6h0M466.4 119.7h0M467.1 119.9h0M467.8 120.1h0M468.5 120.2h0M469.2 120.4h0M469.9 120.6h0M470.6 120.8h0M471.3 120.9h0M472.0 121.1h0M472.7 121.3h0M473.4 121.4h0M474.1 121.6h0M474.8 121.8h0M475.5 121.9h0M476.2 122.1h0M476.9 122.3h0M477.6 122.4h0M478.3 122.6h0M479.0 122.8h0M479.7 122.9h0M480.4 123.1h0M481.1 123.3h0M481.8 123.4h0M482.5 123.6h0M483.2 123.8h0M483.9 123.9h0M484.6 124.1h0M485.3 124.3h0M486.0 124.4h0M486.7 124.6h0M487.4 124.8h0M488.1 124.9h0M488.8 125.1h0M489.5 125.3h0M490.2 125.4h0M490.9 125.6h0M491.6 125.8h0M492.3 125.9h0M493.0 126.1h0M493.7 126.2h0M494.4 126.4h0M495.1 126.6h0M495.8 126.7h0M496.5 126.9h0M497.2 127.1h0M497.9 127.2h0M498.6 127.4h0M499.3 127.5h0M500.0 127.7h0M500.7 127.9h0M501.4 128.0h0M502.1 128.2h0M502.8 128.4h0M503.5 128.5h0M504.2 128.7h0M504.9 128.8h0M505.6 129.0h0M506.3 129.2h0M507.0 129.3h0M507.7 129.5h0M508.4 129.6h0M509.1 129.8h0M509.8 130.0h0M510.5 130.1h0M511.2 130.3h0M511.9 130.4h0M512.6 130.6h0M513.3 130.7h0M514.0 130.9h0M514.7 131.1h0M515.4 131.2h0M516.1 131.4h0M516.8 131.5h0M517.5 131.7h0M518.2 131.9h0M518.9 132.0h0M519.6 132.2h0M520.3 132.3h0M521.0 132.5h0M521.7 132.7h0M522.4 132.8h0M523.1 133.0h0M523.8 133.1h0M524.5 133.3h0M525.2 133.4h0M525.9 133.6h0M526.6 133.8h0M527.3 133.9h0M528.0 134.1h0M528.7 134.2h0M529.4 134.4h0M530.1 134.6h0M530.8 134.7h0M531.5 134.9h0M532.2 135.0h0M532.9 135.2h0M533.6 135.3h0M534.3 135.5h0M535.0 135.7h0M535.7 135.8h0M536.4 136.0h0M537.1 136.1h0M537.8 136.3h0M538.5 136.4h0M539.2 136.6h0M539.9 136.8h0M540.6 136.9h0M541.3 137.1h0M542.0 137.2h0M542.7 137.4h0M543.4 137.6h0M544.1 137.7h0M544.8 137.9h0M545.5 138.0h0M546.2 138.2h0M546.9 138.3h0M547.6 138.5h0M548.3 138.7h0M549.0 138.8h0M549.7 139.0h0M550.4 139.1h0M551.1 139.3h0M551.8 139.4h0M552.5 139.6h0M553.2 139.8h0M553.9 139.9h0M554.6 140.1h0M555.3 140.2h0M556.0 140.4h0M556.7 140.6h0M557.4 140.7h0M558.1 140.9h0M558.8 141.0h0M559.5 141.2h0M560.2 141.3h0M560.9 141.5h0M561.6 141.7h0M562.3 141.8h0M563.0 142.0h0M563.7 142.1h0M564.4 142.3h0M565.1 142.4h0M565.8 142.6h0M566.5 142.8h0M567.2 142.9h0M567.9 143.1h0M568.6 143.2h0M569.3 143.4h0M570.0 143.6h0M570.7 143.7h0M571.4 143.9h0M572.1 144.0h0M572.8 144.2h0M573.5 144.3h0M574.2 144.5h0M574.9 144.7h0M575.6 144.8h0M576.3 145.0h0M577.0 145.1h0M577.7 145.3h0M578.4 145.4h0M579.1 145.6h0M579.8 145.8h0M580.5 145.9h0M581.2 146.1h0M581.9 146.2h0M582.6 146.4h0M583.3 146.5h0M584.0 146.7h0M584.7 146.9h0M585.4 147.0h0M586.1 147.2h0M586.8 147.3h0M587.5 147.5h0M588.2 147.7h0M588.9 147.8h0M589.6 148.0h0M590.3 148.1h0M591.0 148.3h0M591.7 148.4h0M592.4 148.6h0M593.1 148.8h0M593.8 148.9h0M594.5 149.1h0M595.2 149.2h0M595.9 149.4h0M596.6 149.5h0M597.3 149.7h0M598.0 149.9h0M598.7 150.0h0M599.4 150.2h0M600.1 150.3h0M600.8 150.5h0M601.5 150.6h0M602.2 150.8h0M602.9 151.0h0M603.6 151.1h0M604.3 151.3h0M605.0 151.4h0M605.7 151.6h0M606.4 151.8h0M607.1 151.9h0M607.8 152.1h0M608.5 152.2h0M609.2 152.4h0M609.9 152.5h0M610.6 152.7h0M611.3 152.9h0M612.0 153.0h0M612.7 153.2h0M613.4 153.3h0M614.1 153.5h0M614.8 153.6h0M615.5 153.8h0M616.2 154.0h0M616.9 154.1h0M617.6 154.3h0M618.3 154.4h0M619.0 154.6h0M619.7 154.7h0M620.4 154.9h0M621.1 155.1h0M621.8 155.2h0M622.5 155.4h0M623.2 155.5h0M623.9 155.7h0M624.6 155.9h0M625.3 156.0h0M626.0 156.2h0M626.7 156.3h0M627.4 156.5h0M628.1 156.6h0M628.8 156.8h0M629.5 157.0h0M630.2 157.1h0M630.9 157.3h0M631.6 157.4h0M632.3 157.6h0M633.0 157.7h0M633.7 157.9h0M634.4 158.1h0M635.1 158.2h0M635.8 158.4h0M636.5 158.5h0M637.2 158.7h0M637.9 158.9h0M638.6 159.0h0M639.3 159.2h0M640.0 159.3h0M640.7 159.5h0M641.4 159.6h0M642.1 159.8h0M642.8 160.0h0M643.5 160.1h0M644.2 160.3h0M644.9 160.4h0M645.6 160.6h0M646.3 160.7h0M647.0 160.9h0M647.7 161.1h0M648.4 161.2h0M649.1 161.4h0M649.8 161.5h0M650.5 161.7h0M651.2 161.9h0M651.9 162.0h0M652.6 162.2h0M653.3 162.3h0M654.0 162.5h0M654.7 162.6h0M655.4 162.8h0M656.1 163.0h0M656.8 163.1h0M657.5 163.3h0M658.2 163.4h0M658.9 163.6h0M659.6 163.8h0M660.3 163.9h0M661.0 164.1h0M661.7 164.2h0M662.4 164.4h0M663.1 164.5h0M663.8 164.7h0M664.5 164.9h0M665.2 165.0h0M665.9 165.2h0M666.6 165.3h0M667.3 165.5h0M668.0 165.7h0M668.7 165.8h0M669.4 166.0h0M670.1 166.1h0M670.8 166.3h0M671.5 166.4h0M672.2 166.6h0M672.9 166.8h0M673.6 166.9h0M674.3 167.1h0M675.0 167.2h0M675.7 167.4h0M676.4 167.6h0M677.1 167.7h0M677.8 167.9h0M678.5 168.0h0M679.2 168.2h0M679.9 168.3h0M680.6 168.5h0M681.3 168.7h0M682.0 168.8h0M682.7 169.0h0M683.4 169.1h0M684.1 169.3h0M684.8 169.5h0M685.5 169.6h0M686.2 169.8h0M686.9 169.9h0M687.6 170.1h0" stroke-width="3.4"/></g>
<g stroke="#008000"><path d="M94.7 521.4h0M95.4 519.6h0M96.1 517.6h0M96.8 515.6h0M97.5 513.4h0M98.2 511.2h0M98.9 508.9h0M99.6 506.7h0M100.3 504.3h0M101.0 502.0h0M101.7 499.6h0M102.4 497.2h0M103.1 494.7h0M103.8 492.2h0M104.5 489.7h0M105.2 487.1h0M105.9 484.5h0M106.6 481.8h0M107.3 479.1h0M108.0 476.4h0M108.7 473.6h0M109.4 470.8h0M110.1 467.9h0M110.8 465.1h0M111.5 462.1h0M112.2 459.2h0M112.9 456.2h0M113.6 453.1h0M114.3 450.1h0M115.0 447.0h0M115.7 443.8h0M116.4 440.7h0M117.1 437.5h0M117.8 434.3h0M118.5 431.1h0M119.2 427.8h0M119.9 424.6h0M120.6 421.3h0M121.3 418.0h0M122.0 414.7h0M122.7 411.4h0M123.4 408.1h0M124.1 404.9h0M124.8 401.6h0M125.5 398.3h0M126.2 395.1h0M126.9 391.8h0M127.6 388.6h0M128.3 385.4h0M129.0 382.2h0M129.7 379.1h0M130.4 375.9h0M131.1 372.7h0M131.8 369.6h0M132.5 366.5h0M133.2 363.3h0M133.9 360.2h0M134.6 357.1h0M135.3 354.1h0M136.0 351.0h0M136.7 347.9h0M137.4 344.8h0M138.1 341.8h0M138.8 338.8h0M139.5 335.7h0M140.2 332.7h0M140.9 329.7h0M141.6 326.7h0M142.3 323.7h0M143.0 320.7h0M143.7 317.7h0M144.4 314.7h0M145.1 311.7h0M145.8 308.7h0M146.5 305.8h0M147.2 302.8h0M147.9 299.8h0M148.6 296.9h0M149.3 293.9h0M150.0 291.0h0M150.7 288.1h0M151.4 285.1h0M152.1 282.2h0M152.8 279.3h0M153.5 276.3h0M154.2 273.4h0M154.9 270.5h0M155.6 267.6h0M156.3 264.7h0M157.0 261.7h0M157.7 258.8h0M158.4 255.9h0M159.1 253.0h0M159.8 250.1h0M160.5 247.2h0M161.2 244.3h0M161.9 241.4h0M162.6 238.5h0M163.3 235.6h0M164.0 232.7h0M164.7 229.8h0M165.4 226.9h0M166.1 223.9h0M166.8 221.0h0M167.5 218.1h0M168.2 215.2h0M168.9 212.3h0M169.6 209.4h0M170.3 206.5h0M171.0 203.6h0M171.7 200.7h0M172.4 197.9h0M173.1 195.1h0M173.8 192.3h0M174.5 189.5h0M175.2 186.8h0M175.9 184.1h0M176.6 181.4h0M177.3 178.8h0M178.0 176.2h0M178.7 173.7h0M179.4 171.2h0M180.1 168.8h0M180.8 166.4h0M181.5 164.0h0M182.2 161.7h0M182.9 159.4h0M183.6 157.2h0M184.3 155.1h0M185.0 152.9h0M185.7 150.8h0M186.4 148.8h0M187.1 146.8h0M187.8 144.8h0M188.5 142.9h0M189.2 141.0h0M189.9 139.2h0M190.6 137.4h0M191.3 135.6h0" stroke-width="2.8"/><path d="M87.0 534.2h0M87.7 533.4h0M88.4 532.6h0M89.1 531.7h0M89.8 530.8h0M90.5 529.8h0M91.2 528.6h0M91.9 527.4h0M92.6 526.1h0M93.3 524.7h0M94.0 523.1h0M192.0 133.9h0M192.7 132.2h0M193.4 130.5h0M194.1 128.8h0M194.8 127.2h0M195.5 125.7h0M196.2 124.1h0M196.9 122.6h0M197.6 121.1h0M198.3 119.6h0M199.0 118.2h0M199.7 116.8h0M200.4 115.4h0M201.1 114.0h0M201.8 112.7h0M202.5 111.4h0M203.2 110.1h0M203.9 108.8h0M204.6 107.6h0M205.3 106.3h0M206.0 105.1h0M206.7 103.9h0M207.4 102.8h0M208.1 101.6h0M208.8 100.5h0M209.5 99.4h0M210.2 98.3h0M210.9 97.2h0M211.6 96.1h0M212.3 95.1h0M213.0 94.0h0M213.7 93.0h0M214.4 92.0h0M215.1 91.0h0M215.8 90.0h0M216.5 89.1h0M217.2 88.1h0M217.9 87.2h0M218.6 86.3h0M219.3 85.4h0M220.0 84.5h0M220.7 83.6h0M221.4 82.7h0M222.1 81.9h0M222.8 81.0h0M223.5 80.2h0M224.2 79.4h0M224.9 78.6h0M225.6 77.8h0M226.3 77.0h0M227.0 76.3h0" stroke-width="3.3"/><path d="M72.3 539.7h0M73.0 539.7h0M73.7 539.8h0M74.4 539.7h0M75.1 539.7h0M75.8 539.6h0M76.5 539.6h0M77.2 539.5h0M77.9 539.3h0M78.6 539.1h0M79.3 538.9h0M80.0 538.7h0M80.7 538.5h0M81.4 538.1h0M82.1 537.8h0M82.8 537.4h0M83.5 537.0h0M84.2 536.5h0M84.9 536.0h0M85.6 535.5h0M86.3 534.8h0M227.7 75.6h0M228.4 74.9h0M229.1 74.3h0M229.8 73.7h0M230.5 73.1h0M231.2 72.5h0M231.9 72.0h0M232.6 71.5h0M233.3 71.0h0M234.0 70.6h0M234.7 70.1h0M235.4 69.7h0M236.1 69.4h0M236.8 69.0h0M237.5 68.7h0M238.2 68.4h0M238.9 68.2h0M239.6 67.9h0M240.3 67.7h0M241.0 67.5h0M241.7 67.3h0M242.4 67.2h0M243.1 67.0h0M243.8 66.9h0M244.5 66.7h0M245.2 66.6h0M245.9 66.5h0M246.6 66.5h0M247.3 66.4h0M248.0 66.3h0M248.7 66.3h0M249.4 66.3h0M250.1 66.2h0M250.8 66.2h0M251.5 66.2h0M252.2 66.2h0M252.9 66.3h0M253.6 66.3h0M254.3 66.3h0M255.0 66.4h0M255.7 66.4h0M256.4 66.5h0M257.1 66.6h0M257.8 66.7h0M258.5 66.8h0M259.2 66.9h0M259.9 67.0h0M260.6 67.1h0M261.3 67.2h0M262.0 67.4h0M262.7 67.5h0M263.4 67.6h0M264.1 67.8h0M264.8 68.0h0M265.5 68.1h0M266.2 68.3h0M266.9 68.5h0M267.6 68.7h0M268.3 68.9h0M269.0 69.1h0M269.7 69.3h0M270.4 69.5h0M271.1 69.7h0M271.8 69.9h0M272.5 70.1h0M273.2 70.3h0M273.9 70.6h0M274.6 70.8h0M275.3 71.0h0M276.0 71.3h0M276.7 71.5h0M277.4 71.7h0M278.1 72.0h0M278.8 72.2h0M279.5 72.4h0M280.2 72.7h0M280.9 72.9h0M281.6 73.1h0M282.3 73.4h0M283.0 73.6h0M283.7 73.9h0M284.4 74.1h0M285.1 74.3h0M285.8 74.6h0M286.5 74.8h0M287.2 75.0h0M287.9 75.3h0M288.6 75.5h0M289.3 75.8h0M290.0 76.0h0M290.7 76.2h0M291.4 76.5h0M292.1 76.7h0M292.8 77.0h0M293.5 77.2h0M294.2 77.4h0M294.9 77.7h0M295.6 77.9h0M296.3 78.2h0M297.0 78.4h0M297.7 78.7h0M298.4 78.9h0M299.1 79.1h0M299.8 79.4h0M300.5 79.6h0M301.2 79.9h0M301.9 80.1h0M302.6 80.3h0M303.3 80.6h0M304.0 80.8h0M304.7 81.1h0M305.4 81.3h0M306.1 81.6h0M306.8 81.8h0M307.5 82.0h0M308.2 82.3h0M308.9 82.5h0M309.6 82.8h0M310.3 83.0h0M311.0 83.3h0M311.7 83.5h0M312.4 83.7h0M313.1 84.0h0M313.8 84.2h0M314.5 84.5h0M315.2 84.7h0M315.9 85.0h0M316.6 85.2h0M317.3 85.4h0M318.0 85.7h0M318.7 85.9h0M319.4 86.2h0M320.1 86.4h0M320.8 86.7h0M321.5 86.9h0M322.2 87.1h0M322.9 87.4h0M323.6 87.6h0M324.3 87.9h0M325.0 88.1h0M325.7 88.4h0M326.4 88.6h0M327.1 88.8h0M327.8 89.1h0M328.5 89.3h0M329.2 89.6h0M329.9 89.8h0M330.6 90.1h0M331.3 90.3h0M332.0 90.5h0M332.7 90.8h0M333.4 91.0h0M334.1 91.3h0M334.8 91.5h0M335.5 91.7h0M336.2 92.0h0M336.9 92.2h0M337.6 92.5h0M338.3 92.7h0M339.0 93.0h0M339.7 93.2h0M340.4 93.4h0M341.1 93.7h0M341.8 93.9h0M342.5 94.2h0M343.2 94.4h0M343.9 94.6h0M344.6 94.9h0M345.3 95.1h0M346.0 95.4h0M346.7 95.6h0M347.4 95.8h0M348.1 96.1h0M348.8 96.3h0M349.5 96.6h0M350.2 96.8h0M350.9 97.0h0M351.6 97.3h0M352.3 97.5h0M353.0 97.8h0M353.7 98.0h0M354.4 98.2h0M355.1 98.5h0M355.8 98.7h0M356.5 98.9h0M357.2 99.2h0M357.9 99.4h0M358.6 99.7h0M359.3 99.9h0M360.0 100.1h0M360.7 100.4h0M361.4 100.6h0M362.1 100.8h0M362.8 101.1h0M363.5 101.3h0M364.2 101.5h0M364.9 101.8h0M365.6 102.0h0M366.3 102.2h0M367.0 102.5h0M367.7 102.7h0M368.4 102.9h0M369.1 103.2h0M369.8 103.4h0M370.5 103.6h0M371.2 103.9h0M371.9 104.1h0M372.6 104.3h0M373.3 104.6h0M374.0 104.8h0M374.7 105.0h0M375.4 105.3h0M376.1 105.5h0M376.8 105.7h0M377.5 106.0h0M378.2 106.2h0M378.9 106.4h0M379.6 106.6h0M380.3 106.9h0M381.0 107.1h0M381.7 107.3h0M382.4 107.6h0M383.1 107.8h0M383.8 108.0h0M384.5 108.2h0M385.2 108.5h0M385.9 108.7h0M386.6 108.9h0M387.3 109.1h0M388.0 109.4h0M388.7 109.6h0M389.4 109.8h0M390.1 110.0h0M390.8 110.2h0M391.5 110.5h0M392.2 110.7h0M392.9 110.9h0M393.6 111.1h0M394.3 111.4h0M395.0 111.6h0M395.7 111.8h0M396.4 112.0h0M397.1 112.2h0M397.8 112.5h0M398.5 112.7h0M399.2 112.9h0M399.9 113.1h0M400.6 113.3h0M401.3 113.5h0M402.0 113.8h0M402.7 114.0h0M403.4 114.2h0M404.1 114.4h0M404.8 114.6h0M405.5 114.8h0M406.2 115.0h0M406.9 115.3h0M407.6 115.5h0M408.3 115.7h0M409.0 115.9h0M409.7 116.1h0M410.4 116.3h0M411.1 116.5h0M411.8 116.7h0M412.5 116.9h0M413.2 117.1h0M413.9 117.4h0M414.6 117.6h0M415.3 117.8h0M416.0 118.0h0M416.7 118.2h0M417.4 118.4h0M418.1 118.6h0M418.8 118.8h0M419.5 119.0h0M420.2 119.2h0M420.9 119.4h0M421.6 119.6h0M422.3 119.8h0M423.0 120.0h0M423.7 120.2h0M424.4 120.4h0M425.1 120.6h0M425.8 120.8h0M426.5 121.0h0M427.2 121.2h0M427.9 121.4h0M428.6 121.6h0M429.3 121.8h0M430.0 122.0h0M430.7 122.2h0M431.4 122.4h0M432.1 122.6h0M432.8 122.8h0M433.5 123.0h0M434.2 123.2h0M434.9 123.4h0M435.6 123.6h0M436.3 123.8h0M437.0 123.9h0M437.7 124.1h0M438.4 124.3h0M439.1 124.5h0M439.8 124.7h0M440.5 124.9h0M441.2 125.1h0M441.9 125.3h0M442.6 125.5h0M443.3 125.7h0M444.0 125.8h0M444.7 126.0h0M445.4 126.2h0M446.1 126.4h0M446.8 126.6h0M447.5 126.8h0M448.2 127.0h0M448.9 127.2h0M449.6 127.3h0M450.3 127.5h0M451.0 127.7h0M451.7 127.9h0M452.4 128.1h0M453.1 128.3h0M453.8 128.5h0M454.5 128.6h0M455.2 128.8h0M455.9 129.0h0M456.6 129.2h0M457.3 129.4h0M458.0 129.5h0M458.7 129.7h0M459.4 129.9h0M460.1 130.1h0M460.8 130.3h0M461.5 130.4h0M462.2 130.6h0M462.9 130.8h0M463.6 131.0h0M464.3 131.2h0M465.0 131.3h0M465.7 131.5h0M466.4 131.7h0M467.1 131.9h0M467.8 132.0h0M468.5 132.2h0M469.2 132.4h0M469.9 132.6h0M470.6 132.8h0M471.3 132.9h0M472.0 133.1h0M472.7 133.3h0M473.4 133.5h0M474.1 133.6h0M474.8 133.8h0M475.5 134.0h0M476.2 134.1h0M476.9 134.3h0M477.6 134.5h0M478.3 134.7h0M479.0 134.8h0M479.7 135.0h0M480.4 135.2h0M481.1 135.3h0M481.8 135.5h0M482.5 135.7h0M483.2 135.9h0M483.9 136.0h0M484.6 136.2h0M485.3 136.4h0M486.0 136.5h0M486.7 136.7h0M487.4 136.9h0M488.1 137.0h0M488.8 137.2h0M489.5 137.4h0M490.2 137.5h0M490.9 137.7h0M491.6 137.9h0M492.3 138.0h0M493.0 138.2h0M493.7 138.4h0M494.4 138.5h0M495.1 138.7h0M495.8 138.9h0M496.5 139.0h0M497.2 139.2h0M497.9 139.4h0M498.6 139.5h0M499.3 139.7h0M500.0 139.9h0M500.7 140.0h0M501.4 140.2h0M502.1 140.4h0M502.8 140.5h0M503.5 140.7h0M504.2 140.8h0M504.9 141.0h0M505.6 141.2h0M506.3 141.3h0M507.0 141.5h0M507.7 141.7h0M508.4 141.8h0M509.1 142.0h0M509.8 142.1h0M510.5 142.3h0M511.2 142.5h0M511.9 142.6h0M512.6 142.8h0M513.3 142.9h0M514.0 143.1h0M514.7 143.3h0M515.4 143.4h0M516.1 143.6h0M516.8 143.7h0M517.5 143.9h0M518.2 144.1h0M518.9 144.2h0M519.6 144.4h0M520.3 144.5h0M521.0 144.7h0M521.7 144.8h0M522.4 145.0h0M523.1 145.2h0M523.8 145.3h0M524.5 145.5h0M525.2 145.6h0M525.9 145.8h0M526.6 145.9h0M527.3 146.1h0M528.0 146.3h0M528.7 146.4h0M529.4 146.6h0M530.1 146.7h0M530.8 146.9h0M531.5 147.0h0M532.2 147.2h0M532.9 147.3h0M533.6 147.5h0M534.3 147.7h0M535.0 147.8h0M535.7 148.0h0M536.4 148.1h0M537.1 148.3h0M537.8 148.4h0M538.5 148.6h0M539.2 148.7h0M539.9 148.9h0M540.6 149.0h0M541.3 149.2h0M542.0 149.3h0M542.7 149.5h0M543.4 149.7h0M544.1 149.8h0M544.8 150.0h0M545.5 150.1h0M546.2 150.3h0M546.9 150.4h0M547.6 150.6h0M548.3 150.7h0M549.0 150.9h0M549.7 151.0h0M550.4 151.2h0M551.1 151.3h0M551.8 151.5h0M552.5 151.6h0M553.2 151.8h0M553.9 151.9h0M554.6 152.1h0M555.3 152.2h0M556.0 152.4h0M556.7 152.5h0M557.4 152.7h0M558.1 152.8h0M558.8 153.0h0M559.5 153.1h0M560.2 153.3h0M560.9 153.5h0M561.6 153.6h0M562.3 153.8h0M563.0 153.9h0M563.7 154.1h0M564.4 154.2h0M565.1 154.4h0M565.8 154.5h0M566.5 154.7h0M567.2 154.8h0M567.9 155.0h0M568.6 155.1h0M569.3 155.3h0M570.0 155.4h0M570.7 155.6h0M571.4 155.7h0M572.1 155.9h0M572.8 156.0h0M573.5 156.2h0M574.2 156.3h0M574.9 156.5h0M575.6 156.6h0M576.3 156.8h0M577.0 156.9h0M577.7 157.1h0M578.4 157.2h0M579.1 157.4h0M579.8 157.5h0M580.5 157.7h0M581.2 157.8h0M581.9 158.0h0M582.6 158.1h0M583.3 158.2h0M584.0 158.4h0M584.7 158.5h0M585.4 158.7h0M586.1 158.8h0M586.8 159.0h0M587.5 159.1h0M588.2 159.3h0M588.9 159.4h0M589.6 159.6h0M590.3 159.7h0M591.0 159.9h0M591.7 160.0h0M592.4 160.2h0M593.1 160.3h0M593.8 160.5h0M594.5 160.6h0M595.2 160.8h0M595.9 160.9h0M596.6 161.1h0M597.3 161.2h0M598.0 161.4h0M598.7 161.5h0M599.4 161.7h0M600.1 161.8h0M600.8 162.0h0M601.5 162.1h0M602.2 162.3h0M602.9 162.4h0M603.6 162.6h0M604.3 162.7h0M605.0 162.9h0M605.7 163.0h0M606.4 163.2h0M607.1 163.3h0M607.8 163.5h0M608.5 163.6h0M609.2 163.8h0M609.9 163.9h0M610.6 164.1h0M611.3 164.2h0M612.0 164.4h0M612.7 164.5h0M613.4 164.7h0M614.1 164.8h0M614.8 165.0h0M615.5 165.1h0M616.2 165.3h0M616.9 165.4h0M617.6 165.6h0M618.3 165.7h0M619.0 165.9h0M619.7 166.0h0M620.4 166.2h0M621.1 166.3h0M621.8 166.5h0M622.5 166.7h0M623.2 166.8h0M623.9 167.0h0M624.6 167.1h0M625.3 167.3h0M626.0 167.4h0M626.7 167.6h0M627.4 167.7h0M628.1 167.9h0M628.8 168.0h0M629.5 168.2h0M630.2 168.3h0M630.9 168.5h0M631.6 168.6h0M632.3 168.8h0M633.0 168.9h0M633.7 169.1h0M634.4 169.2h0M635.1 169.4h0M635.8 169.5h0M636.5 169.7h0M637.2 169.9h0M637.9 170.0h0M638.6 170.2h0M639.3 170.3h0M640.0 170.5h0M640.7 170.6h0M641.4 170.8h0M642.1 170.9h0M642.8 171.1h0M643.5 171.2h0M644.2 171.4h0M644.9 171.6h0M645.6 171.7h0M646.3 171.9h0M647.0 172.0h0M647.7 172.2h0M648.4 172.3h0M649.1 172.5h0M649.8 172.6h0M650.5 172.8h0M651.2 173.0h0M651.9 173.1h0M652.6 173.3h0M653.3 173.4h0M654.0 173.6h0M654.7 173.7h0M655.4 173.9h0M656.1 174.1h0M656.8 174.2h0M657.5 174.4h0M658.2 174.5h0M658.9 174.7h0M659.6 174.8h0M660.3 175.0h0M661.0 175.2h0M661.7 175.3h0M662.4 175.5h0M663.1 175.6h0M663.8 175.8h0M664.5 176.0h0M665.2 176.1h0M665.9 176.3h0M666.6 176.4h0M667.3 176.6h0M668.0 176.8h0M668.7 176.9h0M669.4 177.1h0M670.1 177.3h0M670.8 177.4h0M671.5 177.6h0M672.2 177.7h0M672.9 177.9h0M673.6 178.1h0M674.3 178.2h0M675.0 178.4h0M675.7 178.6h0M676.4 178.7h0M677.1 178.9h0M677.8 179.0h0M678.5 179.2h0M679.2 179.4h0M679.9 179.5h0M680.6 179.7h0M681.3 179.9h0M682.0 180.0h0M682.7 180.2h0M683.4 180.4h0M684.1 180.5h0M684.8 180.7h0M685.5 180.9h0M686.2 181.0h0M686.9 181.2h0M687.6 181.4h0M688.3 181.5h0M689.0 181.7h0M689.7 181.9h0M690.4 182.0h0M691.1 182.2h0M691.8 182.4h0M692.5 182.5h0M693.2 182.7h0M693.9 182.9h0M694.6 183.1h0M695.3 183.2h0M696.0 183.4h0M696.7 183.6h0M697.4 183.7h0M698.1 183.9h0M698.8 184.1h0M699.5 184.3h0M700.2 184.4h0M700.9 184.6h0M701.6 184.8h0M702.3 184.9h0M703.0 185.1h0M703.7 185.3h0M704.4 185.5h0M705.1 185.6h0M705.8 185.8h0M706.5 186.0h0M707.2 186.2h0M707.9 186.3h0M708.6 186.5h0M709.3 186.7h0M710.0 186.9h0M710.7 187.0h0M711.4 187.2h0M712.1 187.4h0M712.8 187.6h0M713.5 187.8h0M714.2 187.9h0M714.9 188.1h0M715.6 188.3h0M716.3 188.5h0M717.0 188.7h0M717.7 188.8h0M718.4 189.0h0M719.1 189.2h0M719.8 189.4h0M720.5 189.6h0M721.2 189.7h0M721.9 189.9h0M722.6 190.1h0M723.3 190.3h0M724.0 190.5h0M724.7 190.7h0M725.4 190.8h0M726.1 191.0h0M726.8 191.2h0M727.5 191.4h0M728.2 191.6h0M728.9 191.8h0M729.6 192.0h0M730.3 192.1h0" stroke-width="3.5"/></g>
</g>
<!-- legend -->
<rect x="626" y="414" width="107" height="113" fill="#fff"/>
<g shape-rendering="crispEdges">
<rect x="627" y="414" width="105" height="1" fill="#c4c4c4"/>
<rect x="627" y="415" width="105" height="1" fill="#8a8a8a"/>
<rect x="627" y="416" width="105" height="1" fill="#a8a8a8"/>
<rect x="627" y="524" width="105" height="1" fill="#4c4c4c"/>
<rect x="627" y="525" width="105" height="1" fill="#a8a8a8"/>
<rect x="626" y="415" width="1" height="111" fill="#b0b0b0"/>
<rect x="627" y="415" width="1" height="111" fill="#3c3c3c"/>
<rect x="628" y="415" width="1" height="110" fill="#d8d8d8"/>
<rect x="730" y="415" width="1" height="110" fill="#8c8c8c"/>
<rect x="731" y="415" width="1" height="111" fill="#7a7a7a"/>
<rect x="732" y="415" width="1" height="111" fill="#d0d0d0"/>
</g>
<g stroke-linecap="round" stroke-width="2.6" fill="none">
<path d="M647.2 426.6h0" stroke="#ff0000"/>
<path d="M647.2 444.1h0" stroke="#c8c800"/>
<path d="M647.2 461.5h0" stroke="#0072bd"/>
<path d="M647.2 479h0" stroke="#ff5a00"/>
<path d="M647.2 496.4h0" stroke="#e000e0"/>
<path d="M647.2 513.9h0" stroke="#008000"/>
</g>
<g class="lg">
<text x="666" y="431">Simulation</text>
<text x="666" y="446.9">N1</text>
<text x="666" y="466">N2</text>
<text x="666" y="483.2">N3</text>
<text x="666" y="500.6">N4</text>
<text x="666" y="517.8">N5</text>
</g>
</svg>
</body></html>
